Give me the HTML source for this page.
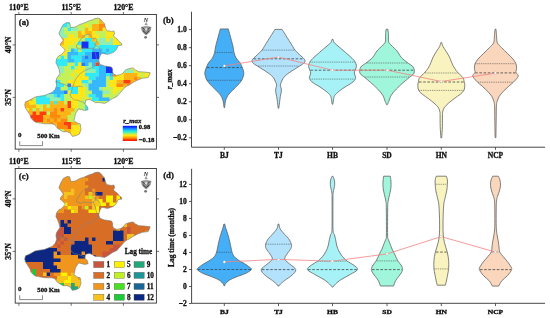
<!DOCTYPE html><html><head><meta charset="utf-8"><style>html,body{margin:0;padding:0;background:#fff;}svg{display:block;will-change:transform;} text{stroke:#111;stroke-width:0.3px;}</style></head><body>
<svg width="550" height="318" viewBox="0 0 550 318" font-family='"Liberation Serif", serif' fill="#111">
<rect width="550" height="318" fill="#fff"/>
<g transform="translate(0,0)">
<rect x="15.2" y="14.5" width="141.2" height="134.6" fill="none" stroke="#333" stroke-width="0.9"/>
<line x1="18.9" y1="12" x2="18.9" y2="14.5" stroke="#333" stroke-width="0.7"/>
<line x1="18.9" y1="149.1" x2="18.9" y2="151.8" stroke="#333" stroke-width="0.7"/>
<line x1="71.2" y1="12" x2="71.2" y2="14.5" stroke="#333" stroke-width="0.7"/>
<line x1="71.2" y1="149.1" x2="71.2" y2="151.8" stroke="#333" stroke-width="0.7"/>
<line x1="123.4" y1="12" x2="123.4" y2="14.5" stroke="#333" stroke-width="0.7"/>
<line x1="123.4" y1="149.1" x2="123.4" y2="151.8" stroke="#333" stroke-width="0.7"/>
<line x1="12.6" y1="44.9" x2="15.2" y2="44.9" stroke="#333" stroke-width="0.7"/>
<line x1="156.4" y1="44.9" x2="159" y2="44.9" stroke="#333" stroke-width="0.7"/>
<line x1="12.6" y1="97.4" x2="15.2" y2="97.4" stroke="#333" stroke-width="0.7"/>
<line x1="156.4" y1="97.4" x2="159" y2="97.4" stroke="#333" stroke-width="0.7"/>
<text x="18.9" y="10.3" font-size="7.8" text-anchor="middle" font-weight="bold" font-style="normal" >110°E</text>
<text x="71.2" y="10.3" font-size="7.8" text-anchor="middle" font-weight="bold" font-style="normal" >115°E</text>
<text x="123.4" y="10.3" font-size="7.8" text-anchor="middle" font-weight="bold" font-style="normal" >120°E</text>
<text transform="translate(10.6,44.9) rotate(-90)" font-size="7.8" text-anchor="middle" font-weight="bold">40°N</text>
<text transform="translate(10.6,97.4) rotate(-90)" font-size="7.8" text-anchor="middle" font-weight="bold">35°N</text>
<text x="18.8" y="25" font-size="8.8" text-anchor="start" font-weight="bold" font-style="normal" >(a)</text>
<clipPath id="clipa"><path d="M63.3 24.4 L67 22.5 L69.6 22.8 L70.8 27.6 L75.2 27 L80 24.4 L83.8 23.2 L89.4 20.7 L92.6 19.8 L95.1 18.5 L98.2 18.1 L100.8 19.4 L102.6 21.9 L104.5 23.8 L105.2 27 L105.8 28.8 L107 30.7 L111.4 31.4 L114 31.1 L114.6 33.9 L113.3 35.8 L115.2 37.6 L117.7 39.5 L119 41.4 L121.3 43.2 L122 45.1 L118.1 45.6 L116.4 49.4 L113.7 52.2 L110.9 53.3 L107.6 54.4 L104.3 53.8 L102.1 53.3 L100.5 54.9 L99.4 57.7 L98.8 60.4 L99.4 63.2 L101 64.8 L104.3 65.9 L108.2 66.5 L111.5 67 L112.6 69.2 L112.6 72 L113.7 74.2 L116.4 75.3 L120.3 74.7 L123 73.1 L125.5 69.9 L129.7 68.4 L133.2 68 L135.4 69.9 L138.9 71.7 L143.8 72 L150.2 72.7 L149.5 74.8 L148.1 77.6 L142.4 78.3 L138.2 79.8 L133.9 81.9 L131.8 83.3 L129.7 84.7 L126.9 86.1 L124 88.2 L121.2 91.8 L118.4 94.6 L117.2 96.3 L112.5 98.6 L107.7 101.8 L104.6 103.4 L99.9 102.6 L95.2 102.6 L92.8 101 L89.7 99.4 L85.7 100.2 L84.9 104.2 L87.3 106.5 L88.1 109.7 L84.9 110.4 L81.8 109.7 L78.6 108.9 L77.1 111.2 L75.5 113.6 L74.7 117.5 L73.9 120.7 L77.1 123 L80.2 123.8 L81 129.3 L79.4 134 L76.3 135.6 L72.4 136.4 L70.3 133.2 L67.2 131.7 L63.2 131.7 L60.1 130.1 L56.9 127.7 L54.6 124.6 L51.4 123.8 L45.2 123.8 L40.4 123 L35.7 122.2 L33.4 120.7 L31 118.3 L30.2 115.2 L28.6 112.8 L27.1 110.4 L25.5 108.1 L24.7 104.9 L25.5 101.8 L29.4 100.2 L34.9 97.1 L38.9 96.3 L44.2 95.6 L48.1 94 L52 92.5 L55.2 89.3 L56.7 85.4 L55.9 81.4 L56.7 78.3 L58.3 75.9 L59.9 73.6 L59.1 69.7 L57.5 65.7 L55.9 62.6 L56.7 58.6 L59.1 55.5 L60.8 55 L63.3 52.7 L65.2 50.2 L62.6 47.1 L60.1 45.2 L60.8 43.3 L63.3 40.2 L62 38.3 L58.9 33.9 L59.5 32 L60.8 28.8 Z"/></clipPath>
<filter id="bla" x="-5%" y="-5%" width="110%" height="110%"><feGaussianBlur stdDeviation="0.45"/></filter>
<g clip-path="url(#clipa)"><g filter="url(#bla)">
<rect x="20" y="15" width="140" height="130" fill="#B4EC8C"/><path fill="#30EAF6" d="M22 17h49v3.5h-49zM22 20.5h14v3.5h-14zM39.5 20.5h17.5v3.5h-17.5zM60.5 20.5h10.5v3.5h-10.5zM57 24h10.5v3.5h-10.5zM71 24h3.5v3.5h-3.5zM67.5 27.5h3.5v3.5h-3.5zM85 38h7v3.5h-7zM78 41.5h3.5v3.5h-3.5zM88.5 41.5h7v3.5h-7zM127 41.5h10.5v3.5h-10.5zM144.5 41.5h3.5v3.5h-3.5zM88.5 45h7v3.5h-7zM99 45h45.5v3.5h-45.5zM74.5 48.5h3.5v3.5h-3.5zM81.5 48.5h10.5v3.5h-10.5zM102.5 48.5h3.5v3.5h-3.5zM109.5 48.5h28v3.5h-28zM141 48.5h3.5v3.5h-3.5zM78 52h7v3.5h-7zM106 52h28v3.5h-28zM25.5 55.5h3.5v3.5h-3.5zM53.5 55.5h3.5v3.5h-3.5zM60.5 55.5h3.5v3.5h-3.5zM71 55.5h10.5v3.5h-10.5zM109.5 55.5h21v3.5h-21zM22 59h14v3.5h-14zM39.5 59h28v3.5h-28zM74.5 59h7v3.5h-7zM102.5 59h3.5v3.5h-3.5zM113 59h14v3.5h-14zM22 62.5h21v3.5h-21zM50 62.5h17.5v3.5h-17.5zM74.5 62.5h3.5v3.5h-3.5zM116.5 62.5h10.5v3.5h-10.5zM71 66h3.5v3.5h-3.5zM92 66h7v3.5h-7zM39.5 69.5h3.5v3.5h-3.5zM95.5 69.5h3.5v3.5h-3.5zM22 73h28v3.5h-28zM53.5 73h3.5v3.5h-3.5zM85 73h14v3.5h-14zM106 73h3.5v3.5h-3.5zM25.5 76.5h10.5v3.5h-10.5zM43 76.5h7v3.5h-7zM53.5 76.5h3.5v3.5h-3.5zM88.5 76.5h7v3.5h-7zM109.5 76.5h3.5v3.5h-3.5zM22 80h3.5v3.5h-3.5zM50 80h3.5v3.5h-3.5zM57 80h3.5v3.5h-3.5zM81.5 80h7v3.5h-7zM36 83.5h3.5v3.5h-3.5zM43 83.5h3.5v3.5h-3.5zM57 83.5h7v3.5h-7zM39.5 87h3.5v3.5h-3.5zM67.5 87h10.5v3.5h-10.5zM36 90.5h7v3.5h-7zM71 90.5h7v3.5h-7zM36 94h10.5v3.5h-10.5zM53.5 94h3.5v3.5h-3.5zM60.5 94h3.5v3.5h-3.5zM88.5 94h7v3.5h-7zM36 97.5h14v3.5h-14zM60.5 97.5h3.5v3.5h-3.5zM92 97.5h7v3.5h-7zM36 101h14v3.5h-14zM53.5 101h3.5v3.5h-3.5zM85 101h7v3.5h-7zM85 104.5h7v3.5h-7zM85 108h7v3.5h-7zM85 111.5h7v3.5h-7zM88.5 115h7v3.5h-7zM85 118.5h3.5v3.5h-3.5z"/>
<path fill="#8EEEB4" d="M71 17h7v3.5h-7zM36 20.5h3.5v3.5h-3.5zM57 20.5h3.5v3.5h-3.5zM71 20.5h7v3.5h-7zM22 24h35v3.5h-35zM67.5 24h3.5v3.5h-3.5zM22 27.5h42v3.5h-42zM71 27.5h7v3.5h-7zM22 31h42v3.5h-42zM22 34.5h14v3.5h-14zM39.5 34.5h7v3.5h-7zM50 34.5h17.5v3.5h-17.5zM29 38h10.5v3.5h-10.5zM99 38h7v3.5h-7zM109.5 38h3.5v3.5h-3.5zM99 41.5h14v3.5h-14zM95.5 45h3.5v3.5h-3.5zM127 59h3.5v3.5h-3.5zM43 62.5h7v3.5h-7zM88.5 62.5h3.5v3.5h-3.5zM127 62.5h7v3.5h-7zM22 66h42v3.5h-42zM85 66h7v3.5h-7zM116.5 66h14v3.5h-14zM22 69.5h17.5v3.5h-17.5zM43 69.5h21v3.5h-21zM85 69.5h10.5v3.5h-10.5zM116.5 69.5h3.5v3.5h-3.5zM123.5 69.5h10.5v3.5h-10.5zM50 73h3.5v3.5h-3.5zM57 73h3.5v3.5h-3.5zM88.5 80h3.5v3.5h-3.5zM85 83.5h3.5v3.5h-3.5zM99 87h3.5v3.5h-3.5zM102.5 90.5h7v3.5h-7zM46.5 94h7v3.5h-7zM50 97.5h10.5v3.5h-10.5z"/>
<path fill="#C4F05A" d="M78 17h21v3.5h-21zM78 20.5h21v3.5h-21zM74.5 24h10.5v3.5h-10.5zM88.5 24h3.5v3.5h-3.5zM64 27.5h3.5v3.5h-3.5zM78 27.5h7v3.5h-7zM64 31h14v3.5h-14zM95.5 31h10.5v3.5h-10.5zM74.5 34.5h3.5v3.5h-3.5zM85 34.5h3.5v3.5h-3.5zM99 34.5h7v3.5h-7zM134 34.5h3.5v3.5h-3.5zM78 38h7v3.5h-7zM95.5 38h3.5v3.5h-3.5zM120 38h14v3.5h-14zM137.5 38h7v3.5h-7zM148 38h3.5v3.5h-3.5zM74.5 41.5h3.5v3.5h-3.5zM120 41.5h7v3.5h-7zM137.5 41.5h7v3.5h-7zM151.5 41.5h3.5v3.5h-3.5zM67.5 45h14v3.5h-14zM144.5 45h7v3.5h-7zM22 48.5h7v3.5h-7zM39.5 48.5h3.5v3.5h-3.5zM46.5 48.5h3.5v3.5h-3.5zM67.5 48.5h3.5v3.5h-3.5zM78 48.5h3.5v3.5h-3.5zM22 52h7v3.5h-7zM32.5 52h10.5v3.5h-10.5zM46.5 52h14v3.5h-14zM22 55.5h3.5v3.5h-3.5zM29 55.5h24.5v3.5h-24.5zM57 55.5h3.5v3.5h-3.5zM64 55.5h3.5v3.5h-3.5zM36 59h3.5v3.5h-3.5zM67.5 62.5h7v3.5h-7zM64 66h7v3.5h-7zM74.5 66h3.5v3.5h-3.5zM64 69.5h10.5v3.5h-10.5zM137.5 69.5h3.5v3.5h-3.5zM144.5 69.5h3.5v3.5h-3.5zM60.5 73h10.5v3.5h-10.5zM74.5 73h3.5v3.5h-3.5zM141 73h3.5v3.5h-3.5zM22 76.5h3.5v3.5h-3.5zM36 76.5h3.5v3.5h-3.5zM57 76.5h17.5v3.5h-17.5zM106 76.5h3.5v3.5h-3.5zM141 76.5h3.5v3.5h-3.5zM25.5 80h10.5v3.5h-10.5zM60.5 80h7v3.5h-7zM106 80h3.5v3.5h-3.5zM148 80h3.5v3.5h-3.5zM22 83.5h10.5v3.5h-10.5zM64 83.5h3.5v3.5h-3.5zM81.5 83.5h3.5v3.5h-3.5zM106 83.5h3.5v3.5h-3.5zM134 83.5h3.5v3.5h-3.5zM22 87h14v3.5h-14zM60.5 87h7v3.5h-7zM85 87h3.5v3.5h-3.5zM102.5 87h10.5v3.5h-10.5zM123.5 87h3.5v3.5h-3.5zM134 87h3.5v3.5h-3.5zM22 90.5h14v3.5h-14zM85 90.5h7v3.5h-7zM109.5 90.5h3.5v3.5h-3.5zM116.5 90.5h7v3.5h-7zM127 90.5h3.5v3.5h-3.5zM22 94h14v3.5h-14zM64 94h7v3.5h-7zM85 94h3.5v3.5h-3.5zM102.5 94h17.5v3.5h-17.5zM123.5 94h10.5v3.5h-10.5zM22 97.5h7v3.5h-7zM32.5 97.5h3.5v3.5h-3.5zM64 97.5h7v3.5h-7zM81.5 97.5h3.5v3.5h-3.5zM88.5 97.5h3.5v3.5h-3.5zM109.5 97.5h10.5v3.5h-10.5zM127 97.5h7v3.5h-7zM64 101h3.5v3.5h-3.5zM78 101h7v3.5h-7zM92 101h28v3.5h-28zM123.5 101h3.5v3.5h-3.5zM130.5 101h3.5v3.5h-3.5zM39.5 104.5h3.5v3.5h-3.5zM46.5 104.5h3.5v3.5h-3.5zM78 104.5h7v3.5h-7zM92 104.5h28v3.5h-28zM127 104.5h7v3.5h-7zM32.5 108h3.5v3.5h-3.5zM39.5 108h3.5v3.5h-3.5zM74.5 108h10.5v3.5h-10.5zM92 108h28v3.5h-28zM130.5 108h3.5v3.5h-3.5zM46.5 111.5h3.5v3.5h-3.5zM71 111.5h14v3.5h-14zM92 111.5h28v3.5h-28zM123.5 111.5h14v3.5h-14zM67.5 115h21v3.5h-21zM95.5 115h21v3.5h-21zM127 115h7v3.5h-7zM67.5 118.5h17.5v3.5h-17.5zM88.5 118.5h28v3.5h-28zM127 118.5h7v3.5h-7zM78 122h3.5v3.5h-3.5zM95.5 122h21v3.5h-21zM127 122h10.5v3.5h-10.5zM53.5 125.5h3.5v3.5h-3.5zM102.5 125.5h3.5v3.5h-3.5zM109.5 125.5h10.5v3.5h-10.5zM127 125.5h3.5v3.5h-3.5zM50 129h14v3.5h-14zM106 129h17.5v3.5h-17.5zM127 129h7v3.5h-7zM46.5 132.5h14v3.5h-14zM106 132.5h14v3.5h-14zM127 132.5h3.5v3.5h-3.5zM50 136h14v3.5h-14zM102.5 136h3.5v3.5h-3.5zM120 136h3.5v3.5h-3.5zM127 136h10.5v3.5h-10.5zM50 139.5h14v3.5h-14zM127 139.5h7v3.5h-7z"/>
<path fill="#FFB414" d="M99 17h56v3.5h-56zM99 20.5h45.5v3.5h-45.5zM148 20.5h7v3.5h-7zM92 24h7v3.5h-7zM134 24h3.5v3.5h-3.5zM141 24h7v3.5h-7zM85 27.5h3.5v3.5h-3.5zM92 27.5h7v3.5h-7zM78 31h3.5v3.5h-3.5zM85 31h7v3.5h-7zM36 34.5h3.5v3.5h-3.5zM46.5 34.5h3.5v3.5h-3.5zM78 34.5h7v3.5h-7zM88.5 34.5h3.5v3.5h-3.5zM22 38h7v3.5h-7zM39.5 38h24.5v3.5h-24.5zM92 38h3.5v3.5h-3.5zM22 41.5h35v3.5h-35zM60.5 41.5h3.5v3.5h-3.5zM95.5 41.5h3.5v3.5h-3.5zM32.5 45h10.5v3.5h-10.5zM46.5 45h3.5v3.5h-3.5zM123.5 73h14v3.5h-14zM123.5 76.5h10.5v3.5h-10.5zM137.5 76.5h3.5v3.5h-3.5zM116.5 80h7v3.5h-7zM130.5 80h7v3.5h-7zM123.5 83.5h3.5v3.5h-3.5zM29 97.5h3.5v3.5h-3.5zM22 101h7v3.5h-7zM50 101h3.5v3.5h-3.5zM57 101h7v3.5h-7zM22 104.5h14v3.5h-14zM43 104.5h3.5v3.5h-3.5zM50 104.5h17.5v3.5h-17.5zM29 108h3.5v3.5h-3.5zM36 108h3.5v3.5h-3.5zM43 108h10.5v3.5h-10.5zM57 108h3.5v3.5h-3.5zM64 108h10.5v3.5h-10.5zM29 111.5h3.5v3.5h-3.5zM36 111.5h3.5v3.5h-3.5zM57 111.5h14v3.5h-14zM25.5 115h3.5v3.5h-3.5zM43 115h7v3.5h-7zM60.5 115h7v3.5h-7zM29 118.5h3.5v3.5h-3.5zM43 118.5h3.5v3.5h-3.5zM50 118.5h3.5v3.5h-3.5zM57 118.5h3.5v3.5h-3.5zM22 122h10.5v3.5h-10.5zM36 122h14v3.5h-14zM53.5 122h3.5v3.5h-3.5zM71 122h7v3.5h-7zM22 125.5h31.5v3.5h-31.5zM22 129h28v3.5h-28zM64 129h7v3.5h-7zM22 132.5h24.5v3.5h-24.5zM60.5 132.5h10.5v3.5h-10.5zM22 136h28v3.5h-28zM64 136h7v3.5h-7zM22 139.5h28v3.5h-28zM64 139.5h7v3.5h-7z"/>
<path fill="#FFE614" d="M144.5 20.5h3.5v3.5h-3.5zM85 24h3.5v3.5h-3.5zM106 24h28v3.5h-28zM137.5 24h3.5v3.5h-3.5zM148 24h7v3.5h-7zM88.5 27.5h3.5v3.5h-3.5zM102.5 27.5h52.5v3.5h-52.5zM81.5 31h3.5v3.5h-3.5zM92 31h3.5v3.5h-3.5zM106 31h49v3.5h-49zM67.5 34.5h7v3.5h-7zM92 34.5h7v3.5h-7zM106 34.5h28v3.5h-28zM137.5 34.5h17.5v3.5h-17.5zM64 38h14v3.5h-14zM106 38h3.5v3.5h-3.5zM113 38h7v3.5h-7zM134 38h3.5v3.5h-3.5zM144.5 38h3.5v3.5h-3.5zM151.5 38h3.5v3.5h-3.5zM57 41.5h3.5v3.5h-3.5zM64 41.5h10.5v3.5h-10.5zM113 41.5h7v3.5h-7zM148 41.5h3.5v3.5h-3.5zM22 45h10.5v3.5h-10.5zM43 45h3.5v3.5h-3.5zM50 45h17.5v3.5h-17.5zM151.5 45h3.5v3.5h-3.5zM29 48.5h10.5v3.5h-10.5zM43 48.5h3.5v3.5h-3.5zM50 48.5h17.5v3.5h-17.5zM137.5 48.5h3.5v3.5h-3.5zM144.5 48.5h10.5v3.5h-10.5zM29 52h3.5v3.5h-3.5zM43 52h3.5v3.5h-3.5zM60.5 52h7v3.5h-7zM134 52h21v3.5h-21zM130.5 55.5h24.5v3.5h-24.5zM130.5 59h24.5v3.5h-24.5zM78 62.5h3.5v3.5h-3.5zM134 62.5h21v3.5h-21zM78 66h7v3.5h-7zM130.5 66h24.5v3.5h-24.5zM74.5 69.5h10.5v3.5h-10.5zM113 69.5h3.5v3.5h-3.5zM120 69.5h3.5v3.5h-3.5zM134 69.5h3.5v3.5h-3.5zM141 69.5h3.5v3.5h-3.5zM148 69.5h7v3.5h-7zM71 73h3.5v3.5h-3.5zM78 73h7v3.5h-7zM116.5 73h7v3.5h-7zM137.5 73h3.5v3.5h-3.5zM144.5 73h10.5v3.5h-10.5zM74.5 76.5h14v3.5h-14zM113 76.5h10.5v3.5h-10.5zM144.5 76.5h10.5v3.5h-10.5zM67.5 80h14v3.5h-14zM109.5 80h7v3.5h-7zM141 80h7v3.5h-7zM151.5 80h3.5v3.5h-3.5zM71 83.5h10.5v3.5h-10.5zM109.5 83.5h7v3.5h-7zM141 83.5h14v3.5h-14zM78 87h7v3.5h-7zM113 87h10.5v3.5h-10.5zM141 87h14v3.5h-14zM67.5 90.5h3.5v3.5h-3.5zM78 90.5h7v3.5h-7zM113 90.5h3.5v3.5h-3.5zM123.5 90.5h3.5v3.5h-3.5zM141 90.5h14v3.5h-14zM71 94h14v3.5h-14zM120 94h3.5v3.5h-3.5zM137.5 94h17.5v3.5h-17.5zM71 97.5h10.5v3.5h-10.5zM85 97.5h3.5v3.5h-3.5zM120 97.5h7v3.5h-7zM141 97.5h14v3.5h-14zM29 101h7v3.5h-7zM71 101h7v3.5h-7zM120 101h3.5v3.5h-3.5zM127 101h3.5v3.5h-3.5zM141 101h14v3.5h-14zM36 104.5h3.5v3.5h-3.5zM71 104.5h7v3.5h-7zM120 104.5h7v3.5h-7zM141 104.5h14v3.5h-14zM25.5 108h3.5v3.5h-3.5zM120 108h10.5v3.5h-10.5zM137.5 108h3.5v3.5h-3.5zM144.5 108h10.5v3.5h-10.5zM120 111.5h3.5v3.5h-3.5zM141 111.5h14v3.5h-14zM116.5 115h10.5v3.5h-10.5zM141 115h14v3.5h-14zM116.5 118.5h10.5v3.5h-10.5zM144.5 118.5h10.5v3.5h-10.5zM81.5 122h14v3.5h-14zM116.5 122h10.5v3.5h-10.5zM144.5 122h10.5v3.5h-10.5zM71 125.5h31.5v3.5h-31.5zM106 125.5h3.5v3.5h-3.5zM120 125.5h7v3.5h-7zM141 125.5h14v3.5h-14zM71 129h35v3.5h-35zM123.5 129h3.5v3.5h-3.5zM141 129h14v3.5h-14zM71 132.5h35v3.5h-35zM120 132.5h7v3.5h-7zM144.5 132.5h10.5v3.5h-10.5zM71 136h31.5v3.5h-31.5zM106 136h14v3.5h-14zM123.5 136h3.5v3.5h-3.5zM137.5 136h17.5v3.5h-17.5zM71 139.5h56v3.5h-56zM141 139.5h14v3.5h-14z"/>
<path fill="#FF8A0A" d="M99 24h7v3.5h-7zM99 27.5h3.5v3.5h-3.5zM113 73h3.5v3.5h-3.5zM134 76.5h3.5v3.5h-3.5zM137.5 80h3.5v3.5h-3.5zM116.5 83.5h7v3.5h-7zM127 83.5h7v3.5h-7zM137.5 83.5h3.5v3.5h-3.5zM127 87h7v3.5h-7zM137.5 87h3.5v3.5h-3.5zM130.5 90.5h10.5v3.5h-10.5zM134 94h3.5v3.5h-3.5zM134 97.5h7v3.5h-7zM134 101h7v3.5h-7zM134 104.5h7v3.5h-7zM22 108h3.5v3.5h-3.5zM53.5 108h3.5v3.5h-3.5zM134 108h3.5v3.5h-3.5zM141 108h3.5v3.5h-3.5zM22 111.5h7v3.5h-7zM50 111.5h7v3.5h-7zM137.5 111.5h3.5v3.5h-3.5zM22 115h3.5v3.5h-3.5zM50 115h10.5v3.5h-10.5zM134 115h7v3.5h-7zM22 118.5h7v3.5h-7zM46.5 118.5h3.5v3.5h-3.5zM53.5 118.5h3.5v3.5h-3.5zM60.5 118.5h7v3.5h-7zM134 118.5h10.5v3.5h-10.5zM50 122h3.5v3.5h-3.5zM57 122h7v3.5h-7zM137.5 122h7v3.5h-7zM57 125.5h10.5v3.5h-10.5zM130.5 125.5h10.5v3.5h-10.5zM134 129h7v3.5h-7zM130.5 132.5h14v3.5h-14zM134 139.5h7v3.5h-7z"/>
<path fill="#1432F0" d="M81.5 41.5h7v3.5h-7zM81.5 45h7v3.5h-7zM92 52h7v3.5h-7zM92 55.5h7v3.5h-7zM106 66h7v3.5h-7zM106 69.5h7v3.5h-7z"/>
<path fill="#36B8FF" d="M71 48.5h3.5v3.5h-3.5zM92 48.5h10.5v3.5h-10.5zM106 48.5h3.5v3.5h-3.5zM67.5 52h10.5v3.5h-10.5zM85 52h7v3.5h-7zM99 52h7v3.5h-7zM67.5 55.5h3.5v3.5h-3.5zM81.5 55.5h3.5v3.5h-3.5zM88.5 55.5h3.5v3.5h-3.5zM99 55.5h7v3.5h-7zM67.5 59h7v3.5h-7zM81.5 59h21v3.5h-21zM85 62.5h3.5v3.5h-3.5zM92 62.5h3.5v3.5h-3.5zM99 62.5h7v3.5h-7zM99 66h7v3.5h-7zM113 66h3.5v3.5h-3.5zM99 69.5h7v3.5h-7zM99 73h7v3.5h-7zM109.5 73h3.5v3.5h-3.5zM39.5 76.5h3.5v3.5h-3.5zM50 76.5h3.5v3.5h-3.5zM95.5 76.5h10.5v3.5h-10.5zM36 80h14v3.5h-14zM53.5 80h3.5v3.5h-3.5zM92 80h14v3.5h-14zM32.5 83.5h3.5v3.5h-3.5zM39.5 83.5h3.5v3.5h-3.5zM46.5 83.5h10.5v3.5h-10.5zM88.5 83.5h17.5v3.5h-17.5zM36 87h3.5v3.5h-3.5zM43 87h17.5v3.5h-17.5zM88.5 87h10.5v3.5h-10.5zM43 90.5h21v3.5h-21zM92 90.5h10.5v3.5h-10.5zM57 94h3.5v3.5h-3.5zM95.5 94h7v3.5h-7zM99 97.5h10.5v3.5h-10.5z"/>
<path fill="#2A7CFF" d="M85 55.5h3.5v3.5h-3.5zM106 55.5h3.5v3.5h-3.5zM106 59h7v3.5h-7zM81.5 62.5h3.5v3.5h-3.5zM106 62.5h10.5v3.5h-10.5zM67.5 83.5h3.5v3.5h-3.5zM64 90.5h3.5v3.5h-3.5z"/>
<path fill="#FF3C0A" d="M95.5 62.5h3.5v3.5h-3.5zM123.5 80h7v3.5h-7zM67.5 101h3.5v3.5h-3.5zM67.5 104.5h3.5v3.5h-3.5zM60.5 108h3.5v3.5h-3.5zM32.5 111.5h3.5v3.5h-3.5zM39.5 111.5h7v3.5h-7zM29 115h14v3.5h-14zM32.5 118.5h10.5v3.5h-10.5zM32.5 122h3.5v3.5h-3.5zM64 122h7v3.5h-7zM67.5 125.5h3.5v3.5h-3.5z"/>
</g></g>
<path d="M76.3 46.1 L78.8 42.4 L81.3 38.6 L83.8 36.1 L86.4 34.8 L89.5 34.2 L90.8 36.1 L93.3 38.6 L95.2 38 L97 39.8 L96.4 42.4 L94.5 44.2 L95.8 46.1 L93.3 48 L90.8 48.6 L87.6 48.6 L83.8 48 L80.1 49.3 L76.9 48 L76.3 46.1 M94.5 44.2 L97 46.1 L99.6 48 L100.2 51.2 L100.6 54.5 M93.3 48 L95.2 52.5 L96.3 57.5 L97.2 61.5 L99.3 63.4 M99.3 63.4 L91.2 68.1 L84.9 70.4 L80.2 73.6 L76.2 78.3 L74.2 82.5 L73.1 86 L71.5 90.7 L70.2 94.7 L71.3 97.3 L74.6 100 L77.2 100 L82.5 102 L85.2 103.6 M56 81.4 L59.7 83 L64.4 84.6 L70.2 86.3 L73.1 86 L77 86.5 L80.2 86.2 L82.5 87" fill="none" stroke="#808080" stroke-width="0.55"/>
<path d="M63.3 24.4 L67 22.5 L69.6 22.8 L70.8 27.6 L75.2 27 L80 24.4 L83.8 23.2 L89.4 20.7 L92.6 19.8 L95.1 18.5 L98.2 18.1 L100.8 19.4 L102.6 21.9 L104.5 23.8 L105.2 27 L105.8 28.8 L107 30.7 L111.4 31.4 L114 31.1 L114.6 33.9 L113.3 35.8 L115.2 37.6 L117.7 39.5 L119 41.4 L121.3 43.2 L122 45.1 L118.1 45.6 L116.4 49.4 L113.7 52.2 L110.9 53.3 L107.6 54.4 L104.3 53.8 L102.1 53.3 L100.5 54.9 L99.4 57.7 L98.8 60.4 L99.4 63.2 L101 64.8 L104.3 65.9 L108.2 66.5 L111.5 67 L112.6 69.2 L112.6 72 L113.7 74.2 L116.4 75.3 L120.3 74.7 L123 73.1 L125.5 69.9 L129.7 68.4 L133.2 68 L135.4 69.9 L138.9 71.7 L143.8 72 L150.2 72.7 L149.5 74.8 L148.1 77.6 L142.4 78.3 L138.2 79.8 L133.9 81.9 L131.8 83.3 L129.7 84.7 L126.9 86.1 L124 88.2 L121.2 91.8 L118.4 94.6 L117.2 96.3 L112.5 98.6 L107.7 101.8 L104.6 103.4 L99.9 102.6 L95.2 102.6 L92.8 101 L89.7 99.4 L85.7 100.2 L84.9 104.2 L87.3 106.5 L88.1 109.7 L84.9 110.4 L81.8 109.7 L78.6 108.9 L77.1 111.2 L75.5 113.6 L74.7 117.5 L73.9 120.7 L77.1 123 L80.2 123.8 L81 129.3 L79.4 134 L76.3 135.6 L72.4 136.4 L70.3 133.2 L67.2 131.7 L63.2 131.7 L60.1 130.1 L56.9 127.7 L54.6 124.6 L51.4 123.8 L45.2 123.8 L40.4 123 L35.7 122.2 L33.4 120.7 L31 118.3 L30.2 115.2 L28.6 112.8 L27.1 110.4 L25.5 108.1 L24.7 104.9 L25.5 101.8 L29.4 100.2 L34.9 97.1 L38.9 96.3 L44.2 95.6 L48.1 94 L52 92.5 L55.2 89.3 L56.7 85.4 L55.9 81.4 L56.7 78.3 L58.3 75.9 L59.9 73.6 L59.1 69.7 L57.5 65.7 L55.9 62.6 L56.7 58.6 L59.1 55.5 L60.8 55 L63.3 52.7 L65.2 50.2 L62.6 47.1 L60.1 45.2 L60.8 43.3 L63.3 40.2 L62 38.3 L58.9 33.9 L59.5 32 L60.8 28.8 Z" fill="none" stroke="#777" stroke-width="0.6"/>
<text x="19.7" y="137.3" font-size="7" text-anchor="middle" font-weight="bold" font-style="normal" >0</text>
<text x="37.3" y="137.5" font-size="6.75" text-anchor="start" font-weight="bold" font-style="normal" >500&#8201;Km</text>
<path d="M19.7 141.2 V145.6 H42.5 V141.2" fill="none" stroke="#666" stroke-width="0.75"/>
<g>
<text x="146" y="21.5" font-size="6" text-anchor="middle" font-style="italic" font-weight="bold" fill="#333" style="stroke:#333;stroke-width:0.1px">N</text>
<path d="M146.1 22.2 L147.4 24.9 L144.8 24.9 Z" fill="#aaa" stroke="#666" stroke-width="0.3"/>
<path d="M141.3 27.2 Q146.1 25.6 151.1 27.2 L150.2 30.8 Q148.6 33.8 146.1 35 Q143.6 33.8 142.1 30.8 Z" fill="#9a9a9a" stroke="#555" stroke-width="0.4"/>
<path d="M142.4 27.8 L146.1 31 L149.8 27.8 M142.9 30.6 L146.1 33.6 L149.3 30.6" fill="none" stroke="#333" stroke-width="1"/>
<path d="M146.1 27.6 L147.6 29.5 L146.1 31.2 L144.6 29.5 Z" fill="#e0e0e0"/>
<circle cx="145.6" cy="37.3" r="1.4" fill="#777"/>
</g>
</g>
<g transform="translate(0,154)">
<rect x="15.2" y="14.5" width="141.2" height="134.6" fill="none" stroke="#333" stroke-width="0.9"/>
<line x1="18.9" y1="12" x2="18.9" y2="14.5" stroke="#333" stroke-width="0.7"/>
<line x1="18.9" y1="149.1" x2="18.9" y2="151.8" stroke="#333" stroke-width="0.7"/>
<line x1="71.2" y1="12" x2="71.2" y2="14.5" stroke="#333" stroke-width="0.7"/>
<line x1="71.2" y1="149.1" x2="71.2" y2="151.8" stroke="#333" stroke-width="0.7"/>
<line x1="123.4" y1="12" x2="123.4" y2="14.5" stroke="#333" stroke-width="0.7"/>
<line x1="123.4" y1="149.1" x2="123.4" y2="151.8" stroke="#333" stroke-width="0.7"/>
<line x1="12.6" y1="44.9" x2="15.2" y2="44.9" stroke="#333" stroke-width="0.7"/>
<line x1="156.4" y1="44.9" x2="159" y2="44.9" stroke="#333" stroke-width="0.7"/>
<line x1="12.6" y1="97.4" x2="15.2" y2="97.4" stroke="#333" stroke-width="0.7"/>
<line x1="156.4" y1="97.4" x2="159" y2="97.4" stroke="#333" stroke-width="0.7"/>
<text x="18.9" y="10.3" font-size="7.8" text-anchor="middle" font-weight="bold" font-style="normal" >110°E</text>
<text x="71.2" y="10.3" font-size="7.8" text-anchor="middle" font-weight="bold" font-style="normal" >115°E</text>
<text x="123.4" y="10.3" font-size="7.8" text-anchor="middle" font-weight="bold" font-style="normal" >120°E</text>
<text transform="translate(10.6,44.9) rotate(-90)" font-size="7.8" text-anchor="middle" font-weight="bold">40°N</text>
<text transform="translate(10.6,97.4) rotate(-90)" font-size="7.8" text-anchor="middle" font-weight="bold">35°N</text>
<text x="18.8" y="25" font-size="8.8" text-anchor="start" font-weight="bold" font-style="normal" >(c)</text>
<clipPath id="clipc"><path d="M63.3 24.4 L67 22.5 L69.6 22.8 L70.8 27.6 L75.2 27 L80 24.4 L83.8 23.2 L89.4 20.7 L92.6 19.8 L95.1 18.5 L98.2 18.1 L100.8 19.4 L102.6 21.9 L104.5 23.8 L105.2 27 L105.8 28.8 L107 30.7 L111.4 31.4 L114 31.1 L114.6 33.9 L113.3 35.8 L115.2 37.6 L117.7 39.5 L119 41.4 L121.3 43.2 L122 45.1 L118.1 45.6 L116.4 49.4 L113.7 52.2 L110.9 53.3 L107.6 54.4 L104.3 53.8 L102.1 53.3 L100.5 54.9 L99.4 57.7 L98.8 60.4 L99.4 63.2 L101 64.8 L104.3 65.9 L108.2 66.5 L111.5 67 L112.6 69.2 L112.6 72 L113.7 74.2 L116.4 75.3 L120.3 74.7 L123 73.1 L125.5 69.9 L129.7 68.4 L133.2 68 L135.4 69.9 L138.9 71.7 L143.8 72 L150.2 72.7 L149.5 74.8 L148.1 77.6 L142.4 78.3 L138.2 79.8 L133.9 81.9 L131.8 83.3 L129.7 84.7 L126.9 86.1 L124 88.2 L121.2 91.8 L118.4 94.6 L117.2 96.3 L112.5 98.6 L107.7 101.8 L104.6 103.4 L99.9 102.6 L95.2 102.6 L92.8 101 L89.7 99.4 L85.7 100.2 L84.9 104.2 L87.3 106.5 L88.1 109.7 L84.9 110.4 L81.8 109.7 L78.6 108.9 L77.1 111.2 L75.5 113.6 L74.7 117.5 L73.9 120.7 L77.1 123 L80.2 123.8 L81 129.3 L79.4 134 L76.3 135.6 L72.4 136.4 L70.3 133.2 L67.2 131.7 L63.2 131.7 L60.1 130.1 L56.9 127.7 L54.6 124.6 L51.4 123.8 L45.2 123.8 L40.4 123 L35.7 122.2 L33.4 120.7 L31 118.3 L30.2 115.2 L28.6 112.8 L27.1 110.4 L25.5 108.1 L24.7 104.9 L25.5 101.8 L29.4 100.2 L34.9 97.1 L38.9 96.3 L44.2 95.6 L48.1 94 L52 92.5 L55.2 89.3 L56.7 85.4 L55.9 81.4 L56.7 78.3 L58.3 75.9 L59.9 73.6 L59.1 69.7 L57.5 65.7 L55.9 62.6 L56.7 58.6 L59.1 55.5 L60.8 55 L63.3 52.7 L65.2 50.2 L62.6 47.1 L60.1 45.2 L60.8 43.3 L63.3 40.2 L62 38.3 L58.9 33.9 L59.5 32 L60.8 28.8 Z"/></clipPath>
<filter id="blc" x="-5%" y="-5%" width="110%" height="110%"><feGaussianBlur stdDeviation="0.45"/></filter>
<g clip-path="url(#clipc)"><g filter="url(#blc)">
<rect x="20" y="15" width="140" height="130" fill="#D86E28"/><path fill="#F0961E" d="M22 17h63v3.5h-63zM22 20.5h63v3.5h-63zM22 24h66.5v3.5h-66.5zM22 27.5h63v3.5h-63zM22 31h66.5v3.5h-66.5zM22 34.5h49v3.5h-49zM74.5 34.5h10.5v3.5h-10.5zM92 34.5h3.5v3.5h-3.5zM22 38h42v3.5h-42zM74.5 38h10.5v3.5h-10.5zM92 38h3.5v3.5h-3.5zM22 41.5h42v3.5h-42zM67.5 41.5h17.5v3.5h-17.5zM95.5 41.5h3.5v3.5h-3.5zM22 45h70v3.5h-70zM22 48.5h42v3.5h-42zM67.5 48.5h24.5v3.5h-24.5zM22 52h45.5v3.5h-45.5zM81.5 52h3.5v3.5h-3.5zM22 55.5h42v3.5h-42zM36 59h3.5v3.5h-3.5zM50 59h3.5v3.5h-3.5zM151.5 73h3.5v3.5h-3.5zM144.5 76.5h3.5v3.5h-3.5zM151.5 76.5h3.5v3.5h-3.5zM144.5 80h10.5v3.5h-10.5zM148 83.5h7v3.5h-7zM144.5 87h10.5v3.5h-10.5zM144.5 90.5h10.5v3.5h-10.5zM148 94h7v3.5h-7zM53.5 97.5h3.5v3.5h-3.5zM81.5 97.5h3.5v3.5h-3.5zM151.5 97.5h3.5v3.5h-3.5zM53.5 101h24.5v3.5h-24.5zM85 101h7v3.5h-7zM148 101h7v3.5h-7zM60.5 104.5h38.5v3.5h-38.5zM148 104.5h7v3.5h-7zM53.5 108h45.5v3.5h-45.5zM151.5 108h3.5v3.5h-3.5zM57 111.5h42v3.5h-42zM148 111.5h7v3.5h-7zM60.5 115h38.5v3.5h-38.5zM148 115h7v3.5h-7zM53.5 118.5h7v3.5h-7zM67.5 118.5h3.5v3.5h-3.5zM74.5 118.5h24.5v3.5h-24.5zM148 118.5h7v3.5h-7zM78 122h3.5v3.5h-3.5zM95.5 122h3.5v3.5h-3.5zM148 122h7v3.5h-7zM148 125.5h7v3.5h-7zM144.5 129h10.5v3.5h-10.5zM148 132.5h7v3.5h-7zM151.5 136h3.5v3.5h-3.5zM148 139.5h7v3.5h-7z"/>
<path fill="#D86E28" d="M85 17h70v3.5h-70zM85 20.5h70v3.5h-70zM88.5 24h14v3.5h-14zM106 24h49v3.5h-49zM85 27.5h70v3.5h-70zM88.5 31h66.5v3.5h-66.5zM85 34.5h7v3.5h-7zM95.5 34.5h59.5v3.5h-59.5zM85 38h3.5v3.5h-3.5zM102.5 38h52.5v3.5h-52.5zM99 41.5h7v3.5h-7zM113 41.5h3.5v3.5h-3.5zM120 41.5h21v3.5h-21zM144.5 41.5h10.5v3.5h-10.5zM102.5 45h3.5v3.5h-3.5zM113 45h3.5v3.5h-3.5zM123.5 45h3.5v3.5h-3.5zM137.5 45h3.5v3.5h-3.5zM148 45h7v3.5h-7zM106 48.5h3.5v3.5h-3.5zM134 48.5h7v3.5h-7zM148 48.5h7v3.5h-7zM78 52h3.5v3.5h-3.5zM88.5 52h3.5v3.5h-3.5zM99 52h21v3.5h-21zM137.5 52h17.5v3.5h-17.5zM64 55.5h7v3.5h-7zM78 55.5h10.5v3.5h-10.5zM99 55.5h17.5v3.5h-17.5zM134 55.5h21v3.5h-21zM22 59h14v3.5h-14zM39.5 59h10.5v3.5h-10.5zM53.5 59h45.5v3.5h-45.5zM102.5 59h17.5v3.5h-17.5zM130.5 59h24.5v3.5h-24.5zM22 62.5h98v3.5h-98zM123.5 62.5h31.5v3.5h-31.5zM22 66h38.5v3.5h-38.5zM64 66h3.5v3.5h-3.5zM71 66h45.5v3.5h-45.5zM123.5 66h31.5v3.5h-31.5zM22 69.5h17.5v3.5h-17.5zM43 69.5h7v3.5h-7zM53.5 69.5h7v3.5h-7zM67.5 69.5h49v3.5h-49zM120 69.5h3.5v3.5h-3.5zM127 69.5h28v3.5h-28zM71 73h45.5v3.5h-45.5zM120 73h7v3.5h-7zM130.5 73h21v3.5h-21zM71 76.5h42v3.5h-42zM123.5 76.5h3.5v3.5h-3.5zM130.5 76.5h14v3.5h-14zM148 76.5h3.5v3.5h-3.5zM64 80h49v3.5h-49zM123.5 80h3.5v3.5h-3.5zM134 80h10.5v3.5h-10.5zM60.5 83.5h3.5v3.5h-3.5zM67.5 83.5h17.5v3.5h-17.5zM88.5 83.5h3.5v3.5h-3.5zM95.5 83.5h17.5v3.5h-17.5zM123.5 83.5h3.5v3.5h-3.5zM134 83.5h14v3.5h-14zM46.5 87h7v3.5h-7zM57 87h3.5v3.5h-3.5zM64 87h10.5v3.5h-10.5zM88.5 87h17.5v3.5h-17.5zM113 87h31.5v3.5h-31.5zM50 90.5h7v3.5h-7zM60.5 90.5h10.5v3.5h-10.5zM92 90.5h21v3.5h-21zM120 90.5h24.5v3.5h-24.5zM57 94h14v3.5h-14zM92 94h17.5v3.5h-17.5zM120 94h28v3.5h-28zM60.5 97.5h10.5v3.5h-10.5zM92 97.5h10.5v3.5h-10.5zM116.5 97.5h35v3.5h-35zM95.5 101h7v3.5h-7zM116.5 101h31.5v3.5h-31.5zM99 104.5h7v3.5h-7zM120 104.5h28v3.5h-28zM22 108h21v3.5h-21zM99 108h3.5v3.5h-3.5zM120 108h31.5v3.5h-31.5zM22 111.5h21v3.5h-21zM99 111.5h7v3.5h-7zM116.5 111.5h31.5v3.5h-31.5zM22 115h3.5v3.5h-3.5zM29 115h3.5v3.5h-3.5zM36 115h14v3.5h-14zM99 115h7v3.5h-7zM120 115h28v3.5h-28zM22 118.5h3.5v3.5h-3.5zM36 118.5h7v3.5h-7zM50 118.5h3.5v3.5h-3.5zM102.5 118.5h3.5v3.5h-3.5zM123.5 118.5h24.5v3.5h-24.5zM39.5 122h17.5v3.5h-17.5zM116.5 122h31.5v3.5h-31.5zM46.5 125.5h7v3.5h-7zM120 125.5h28v3.5h-28zM43 129h3.5v3.5h-3.5zM116.5 129h28v3.5h-28zM43 132.5h7v3.5h-7zM116.5 132.5h10.5v3.5h-10.5zM130.5 132.5h17.5v3.5h-17.5zM43 136h7v3.5h-7zM127 136h24.5v3.5h-24.5zM43 139.5h7v3.5h-7zM127 139.5h21v3.5h-21z"/>
<path fill="#0A2882" d="M102.5 24h3.5v3.5h-3.5zM95.5 38h7v3.5h-7zM60.5 66h3.5v3.5h-3.5zM67.5 66h3.5v3.5h-3.5zM60.5 69.5h7v3.5h-7zM22 73h10.5v3.5h-10.5zM64 73h7v3.5h-7zM22 76.5h7v3.5h-7zM64 76.5h7v3.5h-7zM113 76.5h10.5v3.5h-10.5zM22 80h3.5v3.5h-3.5zM29 80h3.5v3.5h-3.5zM113 80h10.5v3.5h-10.5zM22 83.5h17.5v3.5h-17.5zM85 83.5h3.5v3.5h-3.5zM92 83.5h3.5v3.5h-3.5zM113 83.5h10.5v3.5h-10.5zM22 87h21v3.5h-21zM74.5 87h14v3.5h-14zM106 87h7v3.5h-7zM22 90.5h28v3.5h-28zM71 90.5h21v3.5h-21zM22 94h35v3.5h-35zM71 94h21v3.5h-21zM22 97.5h31.5v3.5h-31.5zM57 97.5h3.5v3.5h-3.5zM71 97.5h10.5v3.5h-10.5zM85 97.5h7v3.5h-7zM22 101h31.5v3.5h-31.5zM78 101h7v3.5h-7zM92 101h3.5v3.5h-3.5zM22 104.5h38.5v3.5h-38.5zM43 108h10.5v3.5h-10.5zM43 111.5h14v3.5h-14zM50 115h10.5v3.5h-10.5zM46.5 118.5h3.5v3.5h-3.5z"/>
<path fill="#F6C21E" d="M71 34.5h3.5v3.5h-3.5zM64 38h10.5v3.5h-10.5zM88.5 38h3.5v3.5h-3.5zM64 41.5h3.5v3.5h-3.5zM85 41.5h3.5v3.5h-3.5zM92 41.5h3.5v3.5h-3.5zM92 45h7v3.5h-7zM92 48.5h7v3.5h-7zM71 52h7v3.5h-7zM92 52h3.5v3.5h-3.5zM74.5 55.5h3.5v3.5h-3.5zM116.5 66h7v3.5h-7zM116.5 69.5h3.5v3.5h-3.5zM123.5 69.5h3.5v3.5h-3.5zM116.5 73h3.5v3.5h-3.5zM127 80h7v3.5h-7zM127 83.5h7v3.5h-7zM25.5 118.5h7v3.5h-7zM43 118.5h3.5v3.5h-3.5zM71 118.5h3.5v3.5h-3.5zM99 118.5h3.5v3.5h-3.5zM22 122h17.5v3.5h-17.5zM57 122h10.5v3.5h-10.5zM71 122h7v3.5h-7zM81.5 122h14v3.5h-14zM99 122h7v3.5h-7zM22 125.5h24.5v3.5h-24.5zM53.5 125.5h10.5v3.5h-10.5zM71 125.5h35v3.5h-35zM113 125.5h3.5v3.5h-3.5zM22 129h21v3.5h-21zM46.5 129h14v3.5h-14zM64 129h7v3.5h-7zM74.5 129h38.5v3.5h-38.5zM22 132.5h21v3.5h-21zM50 132.5h7v3.5h-7zM67.5 132.5h3.5v3.5h-3.5zM78 132.5h35v3.5h-35zM127 132.5h3.5v3.5h-3.5zM22 136h21v3.5h-21zM50 136h7v3.5h-7zM60.5 136h3.5v3.5h-3.5zM67.5 136h42v3.5h-42zM113 136h14v3.5h-14zM22 139.5h21v3.5h-21zM50 139.5h7v3.5h-7zM64 139.5h63v3.5h-63z"/>
<path fill="#C2F028" d="M88.5 41.5h3.5v3.5h-3.5zM85 52h3.5v3.5h-3.5z"/>
<path fill="#FFF000" d="M106 41.5h7v3.5h-7zM116.5 41.5h3.5v3.5h-3.5zM141 41.5h3.5v3.5h-3.5zM99 45h3.5v3.5h-3.5zM106 45h7v3.5h-7zM116.5 45h7v3.5h-7zM127 45h10.5v3.5h-10.5zM141 45h7v3.5h-7zM64 48.5h3.5v3.5h-3.5zM99 48.5h7v3.5h-7zM109.5 48.5h24.5v3.5h-24.5zM141 48.5h7v3.5h-7zM67.5 52h3.5v3.5h-3.5zM95.5 52h3.5v3.5h-3.5zM120 52h17.5v3.5h-17.5zM71 55.5h3.5v3.5h-3.5zM88.5 55.5h10.5v3.5h-10.5zM116.5 55.5h17.5v3.5h-17.5zM99 59h3.5v3.5h-3.5zM120 59h10.5v3.5h-10.5zM120 62.5h3.5v3.5h-3.5zM60.5 118.5h7v3.5h-7zM67.5 122h3.5v3.5h-3.5zM64 125.5h7v3.5h-7z"/>
<path fill="#C8553D" d="M39.5 69.5h3.5v3.5h-3.5zM50 69.5h3.5v3.5h-3.5zM32.5 73h31.5v3.5h-31.5zM127 73h3.5v3.5h-3.5zM29 76.5h35v3.5h-35zM127 76.5h3.5v3.5h-3.5zM25.5 80h3.5v3.5h-3.5zM32.5 80h31.5v3.5h-31.5zM39.5 83.5h21v3.5h-21zM64 83.5h3.5v3.5h-3.5zM43 87h3.5v3.5h-3.5zM53.5 87h3.5v3.5h-3.5zM60.5 87h3.5v3.5h-3.5zM57 90.5h3.5v3.5h-3.5zM113 90.5h7v3.5h-7zM109.5 94h10.5v3.5h-10.5zM102.5 97.5h14v3.5h-14zM102.5 101h14v3.5h-14zM106 104.5h14v3.5h-14zM102.5 108h17.5v3.5h-17.5zM106 111.5h10.5v3.5h-10.5zM106 115h14v3.5h-14zM106 118.5h17.5v3.5h-17.5zM106 122h10.5v3.5h-10.5zM106 125.5h7v3.5h-7zM116.5 125.5h3.5v3.5h-3.5zM113 129h3.5v3.5h-3.5zM113 132.5h3.5v3.5h-3.5zM109.5 136h3.5v3.5h-3.5z"/>
<path fill="#1EC83C" d="M25.5 115h3.5v3.5h-3.5zM32.5 115h3.5v3.5h-3.5zM32.5 118.5h3.5v3.5h-3.5zM60.5 129h3.5v3.5h-3.5zM57 132.5h10.5v3.5h-10.5zM57 136h3.5v3.5h-3.5zM64 136h3.5v3.5h-3.5zM57 139.5h7v3.5h-7z"/>
<path fill="#22A878" d="M71 129h3.5v3.5h-3.5zM71 132.5h7v3.5h-7z"/>
</g></g>
<path d="M76.3 46.1 L78.8 42.4 L81.3 38.6 L83.8 36.1 L86.4 34.8 L89.5 34.2 L90.8 36.1 L93.3 38.6 L95.2 38 L97 39.8 L96.4 42.4 L94.5 44.2 L95.8 46.1 L93.3 48 L90.8 48.6 L87.6 48.6 L83.8 48 L80.1 49.3 L76.9 48 L76.3 46.1 M94.5 44.2 L97 46.1 L99.6 48 L100.2 51.2 L100.6 54.5 M93.3 48 L95.2 52.5 L96.3 57.5 L97.2 61.5 L99.3 63.4 M99.3 63.4 L91.2 68.1 L84.9 70.4 L80.2 73.6 L76.2 78.3 L74.2 82.5 L73.1 86 L71.5 90.7 L70.2 94.7 L71.3 97.3 L74.6 100 L77.2 100 L82.5 102 L85.2 103.6 M56 81.4 L59.7 83 L64.4 84.6 L70.2 86.3 L73.1 86 L77 86.5 L80.2 86.2 L82.5 87" fill="none" stroke="#808080" stroke-width="0.55"/>
<path d="M63.3 24.4 L67 22.5 L69.6 22.8 L70.8 27.6 L75.2 27 L80 24.4 L83.8 23.2 L89.4 20.7 L92.6 19.8 L95.1 18.5 L98.2 18.1 L100.8 19.4 L102.6 21.9 L104.5 23.8 L105.2 27 L105.8 28.8 L107 30.7 L111.4 31.4 L114 31.1 L114.6 33.9 L113.3 35.8 L115.2 37.6 L117.7 39.5 L119 41.4 L121.3 43.2 L122 45.1 L118.1 45.6 L116.4 49.4 L113.7 52.2 L110.9 53.3 L107.6 54.4 L104.3 53.8 L102.1 53.3 L100.5 54.9 L99.4 57.7 L98.8 60.4 L99.4 63.2 L101 64.8 L104.3 65.9 L108.2 66.5 L111.5 67 L112.6 69.2 L112.6 72 L113.7 74.2 L116.4 75.3 L120.3 74.7 L123 73.1 L125.5 69.9 L129.7 68.4 L133.2 68 L135.4 69.9 L138.9 71.7 L143.8 72 L150.2 72.7 L149.5 74.8 L148.1 77.6 L142.4 78.3 L138.2 79.8 L133.9 81.9 L131.8 83.3 L129.7 84.7 L126.9 86.1 L124 88.2 L121.2 91.8 L118.4 94.6 L117.2 96.3 L112.5 98.6 L107.7 101.8 L104.6 103.4 L99.9 102.6 L95.2 102.6 L92.8 101 L89.7 99.4 L85.7 100.2 L84.9 104.2 L87.3 106.5 L88.1 109.7 L84.9 110.4 L81.8 109.7 L78.6 108.9 L77.1 111.2 L75.5 113.6 L74.7 117.5 L73.9 120.7 L77.1 123 L80.2 123.8 L81 129.3 L79.4 134 L76.3 135.6 L72.4 136.4 L70.3 133.2 L67.2 131.7 L63.2 131.7 L60.1 130.1 L56.9 127.7 L54.6 124.6 L51.4 123.8 L45.2 123.8 L40.4 123 L35.7 122.2 L33.4 120.7 L31 118.3 L30.2 115.2 L28.6 112.8 L27.1 110.4 L25.5 108.1 L24.7 104.9 L25.5 101.8 L29.4 100.2 L34.9 97.1 L38.9 96.3 L44.2 95.6 L48.1 94 L52 92.5 L55.2 89.3 L56.7 85.4 L55.9 81.4 L56.7 78.3 L58.3 75.9 L59.9 73.6 L59.1 69.7 L57.5 65.7 L55.9 62.6 L56.7 58.6 L59.1 55.5 L60.8 55 L63.3 52.7 L65.2 50.2 L62.6 47.1 L60.1 45.2 L60.8 43.3 L63.3 40.2 L62 38.3 L58.9 33.9 L59.5 32 L60.8 28.8 Z" fill="none" stroke="#777" stroke-width="0.6"/>
<text x="19.7" y="137.3" font-size="7" text-anchor="middle" font-weight="bold" font-style="normal" >0</text>
<text x="37.3" y="137.5" font-size="6.75" text-anchor="start" font-weight="bold" font-style="normal" >500&#8201;Km</text>
<path d="M19.7 141.2 V145.6 H42.5 V141.2" fill="none" stroke="#666" stroke-width="0.75"/>
<g>
<text x="146" y="21.5" font-size="6" text-anchor="middle" font-style="italic" font-weight="bold" fill="#333" style="stroke:#333;stroke-width:0.1px">N</text>
<path d="M146.1 22.2 L147.4 24.9 L144.8 24.9 Z" fill="#aaa" stroke="#666" stroke-width="0.3"/>
<path d="M141.3 27.2 Q146.1 25.6 151.1 27.2 L150.2 30.8 Q148.6 33.8 146.1 35 Q143.6 33.8 142.1 30.8 Z" fill="#9a9a9a" stroke="#555" stroke-width="0.4"/>
<path d="M142.4 27.8 L146.1 31 L149.8 27.8 M142.9 30.6 L146.1 33.6 L149.3 30.6" fill="none" stroke="#333" stroke-width="1"/>
<path d="M146.1 27.6 L147.6 29.5 L146.1 31.2 L144.6 29.5 Z" fill="#e0e0e0"/>
<circle cx="145.6" cy="37.3" r="1.4" fill="#777"/>
</g>
</g>
<defs><linearGradient id="cb" x1="0" y1="0" x2="0" y2="1"><stop offset="0" stop-color="#0818f0"/><stop offset="0.08" stop-color="#1030ff"/><stop offset="0.2" stop-color="#1890ff"/><stop offset="0.33" stop-color="#10e0f0"/><stop offset="0.45" stop-color="#60f0a0"/><stop offset="0.55" stop-color="#c0f050"/><stop offset="0.63" stop-color="#ffe810"/><stop offset="0.78" stop-color="#ffa000"/><stop offset="0.9" stop-color="#ff4000"/><stop offset="1" stop-color="#ff1000"/></linearGradient></defs>
<rect x="122.8" y="125.8" width="14.2" height="15.2" fill="url(#cb)"/>
<text x="123.2" y="122.6" font-size="6.8" font-weight="bold" font-style="italic">r_max</text>
<text x="138.7" y="128.7" font-size="6.6" text-anchor="start" font-weight="bold" font-style="normal" >0.98</text>
<text x="138.7" y="142.3" font-size="6.8" text-anchor="start" font-weight="bold" font-style="normal" >&#8722;0.18</text>
<text x="124.8" y="254.3" font-size="7.2" text-anchor="start" font-weight="bold" font-style="normal" >Lag time</text>
<rect x="93.7" y="261.5" width="10.2" height="6.1" fill="#C8553D" stroke="#555" stroke-width="0.35"/>
<text x="106.4" y="267.3" font-size="7.2" text-anchor="start" font-weight="bold" font-style="normal" >1</text>
<rect x="93.7" y="272.3" width="10.2" height="6.1" fill="#D86E28" stroke="#555" stroke-width="0.35"/>
<text x="106.4" y="278.1" font-size="7.2" text-anchor="start" font-weight="bold" font-style="normal" >2</text>
<rect x="93.7" y="283.4" width="10.2" height="6.1" fill="#F0951E" stroke="#555" stroke-width="0.35"/>
<text x="106.4" y="289.2" font-size="7.2" text-anchor="start" font-weight="bold" font-style="normal" >3</text>
<rect x="93.7" y="294.2" width="10.2" height="6.1" fill="#F6C21E" stroke="#555" stroke-width="0.35"/>
<text x="106.4" y="300" font-size="7.2" text-anchor="start" font-weight="bold" font-style="normal" >4</text>
<rect x="114.2" y="261.5" width="10.2" height="6.1" fill="#FFF000" stroke="#555" stroke-width="0.35"/>
<text x="126.9" y="267.3" font-size="7.2" text-anchor="start" font-weight="bold" font-style="normal" >5</text>
<rect x="114.2" y="272.3" width="10.2" height="6.1" fill="#C2F028" stroke="#555" stroke-width="0.35"/>
<text x="126.9" y="278.1" font-size="7.2" text-anchor="start" font-weight="bold" font-style="normal" >6</text>
<rect x="114.2" y="283.4" width="10.2" height="6.1" fill="#48E020" stroke="#555" stroke-width="0.35"/>
<text x="126.9" y="289.2" font-size="7.2" text-anchor="start" font-weight="bold" font-style="normal" >7</text>
<rect x="114.2" y="294.2" width="10.2" height="6.1" fill="#1EC83C" stroke="#555" stroke-width="0.35"/>
<text x="126.9" y="300" font-size="7.2" text-anchor="start" font-weight="bold" font-style="normal" >8</text>
<rect x="134" y="261.5" width="10.2" height="6.1" fill="#22A878" stroke="#555" stroke-width="0.35"/>
<text x="146.7" y="267.3" font-size="7.2" text-anchor="start" font-weight="bold" font-style="normal" >9</text>
<rect x="134" y="272.3" width="10.2" height="6.1" fill="#1E9696" stroke="#555" stroke-width="0.35"/>
<text x="146.7" y="278.1" font-size="7.2" text-anchor="start" font-weight="bold" font-style="normal" >10</text>
<rect x="134" y="283.4" width="10.2" height="6.1" fill="#1A6496" stroke="#555" stroke-width="0.35"/>
<text x="146.7" y="289.2" font-size="7.2" text-anchor="start" font-weight="bold" font-style="normal" >11</text>
<rect x="134" y="294.2" width="10.2" height="6.1" fill="#0A2882" stroke="#555" stroke-width="0.35"/>
<text x="146.7" y="300" font-size="7.2" text-anchor="start" font-weight="bold" font-style="normal" >12</text>
<g stroke="#333" stroke-width="0.9" fill="none">
<path d="M191.5 11.7 V147.2 H545"/>
</g>
<line x1="188.9" y1="137.83" x2="191.5" y2="137.83" stroke="#333" stroke-width="0.8"/>
<text x="186.7" y="140.43" font-size="7.5" text-anchor="end" font-weight="bold" font-style="normal" >&#8722;0.2</text>
<line x1="188.9" y1="119.8" x2="191.5" y2="119.8" stroke="#333" stroke-width="0.8"/>
<text x="186.7" y="122.4" font-size="7.5" text-anchor="end" font-weight="bold" font-style="normal" >0.0</text>
<line x1="188.9" y1="101.77" x2="191.5" y2="101.77" stroke="#333" stroke-width="0.8"/>
<text x="186.7" y="104.37" font-size="7.5" text-anchor="end" font-weight="bold" font-style="normal" >0.2</text>
<line x1="188.9" y1="83.73" x2="191.5" y2="83.73" stroke="#333" stroke-width="0.8"/>
<text x="186.7" y="86.33" font-size="7.5" text-anchor="end" font-weight="bold" font-style="normal" >0.4</text>
<line x1="188.9" y1="65.7" x2="191.5" y2="65.7" stroke="#333" stroke-width="0.8"/>
<text x="186.7" y="68.3" font-size="7.5" text-anchor="end" font-weight="bold" font-style="normal" >0.6</text>
<line x1="188.9" y1="47.66" x2="191.5" y2="47.66" stroke="#333" stroke-width="0.8"/>
<text x="186.7" y="50.26" font-size="7.5" text-anchor="end" font-weight="bold" font-style="normal" >0.8</text>
<line x1="188.9" y1="29.63" x2="191.5" y2="29.63" stroke="#333" stroke-width="0.8"/>
<text x="186.7" y="32.23" font-size="7.5" text-anchor="end" font-weight="bold" font-style="normal" >1.0</text>
<line x1="224.3" y1="147.2" x2="224.3" y2="149.8" stroke="#333" stroke-width="0.8"/>
<text x="224.3" y="158.3" font-size="7.5" text-anchor="middle" font-weight="bold" font-style="normal" >BJ</text>
<line x1="278.5" y1="147.2" x2="278.5" y2="149.8" stroke="#333" stroke-width="0.8"/>
<text x="278.5" y="158.3" font-size="7.5" text-anchor="middle" font-weight="bold" font-style="normal" >TJ</text>
<line x1="332.5" y1="147.2" x2="332.5" y2="149.8" stroke="#333" stroke-width="0.8"/>
<text x="332.5" y="158.3" font-size="7.5" text-anchor="middle" font-weight="bold" font-style="normal" >HB</text>
<line x1="387" y1="147.2" x2="387" y2="149.8" stroke="#333" stroke-width="0.8"/>
<text x="387" y="158.3" font-size="7.5" text-anchor="middle" font-weight="bold" font-style="normal" >SD</text>
<line x1="441.3" y1="147.2" x2="441.3" y2="149.8" stroke="#333" stroke-width="0.8"/>
<text x="441.3" y="158.3" font-size="7.5" text-anchor="middle" font-weight="bold" font-style="normal" >HN</text>
<line x1="495.5" y1="147.2" x2="495.5" y2="149.8" stroke="#333" stroke-width="0.8"/>
<text x="495.5" y="158.3" font-size="7.5" text-anchor="middle" font-weight="bold" font-style="normal" >NCP</text>
<text x="163" y="23.4" font-size="8.8" text-anchor="start" font-weight="bold" font-style="normal" >(b)</text>
<text transform="translate(171.6,79.2) rotate(-90)" font-size="7.5" text-anchor="middle" font-weight="bold" font-style="italic">r_max</text>
<path d="M228.25 28.9 C228.51 29.82 229.26 32.43 229.8 34.4 C230.34 36.37 230.95 38.6 231.5 40.7 C232.05 42.8 232.68 45.03 233.1 47 C233.52 48.97 233.5 50.67 234 52.5 C234.5 54.33 235.1 56.3 236.1 58 C237.1 59.7 238.97 61.12 240 62.7 C241.03 64.28 241.67 65.87 242.3 67.5 C242.93 69.13 243.63 71.08 243.8 72.5 C243.97 73.92 243.63 74.73 243.3 76 C242.97 77.27 242.72 78.58 241.8 80.1 C240.88 81.62 239.3 83.43 237.8 85.1 C236.3 86.77 234.42 88.43 232.8 90.1 C231.18 91.77 229.28 93.42 228.1 95.1 C226.92 96.78 226.2 98.8 225.7 100.2 C225.2 101.6 225.28 102.27 225.1 103.5 C224.92 104.73 224.68 106.92 224.6 107.6 L224 107.6 C223.92 106.92 223.68 104.73 223.5 103.5 C223.32 102.27 223.4 101.6 222.9 100.2 C222.4 98.8 221.68 96.78 220.5 95.1 C219.32 93.42 217.42 91.77 215.8 90.1 C214.18 88.43 212.3 86.77 210.8 85.1 C209.3 83.43 207.72 81.62 206.8 80.1 C205.88 78.58 205.63 77.27 205.3 76 C204.97 74.73 204.63 73.92 204.8 72.5 C204.97 71.08 205.67 69.13 206.3 67.5 C206.93 65.87 207.57 64.28 208.6 62.7 C209.63 61.12 211.5 59.7 212.5 58 C213.5 56.3 214.1 54.33 214.6 52.5 C215.1 50.67 215.08 48.97 215.5 47 C215.92 45.03 216.55 42.8 217.1 40.7 C217.65 38.6 218.26 36.37 218.8 34.4 C219.34 32.43 220.09 29.82 220.35 28.9 Z" fill="#44AEF6" stroke="#5a5a5a" stroke-width="0.75"/>
<line x1="215.2" y1="52.5" x2="233.4" y2="52.5" stroke="#3a3a3a" stroke-width="0.6" stroke-dasharray="0.9 0.9"/>
<line x1="206.87" y1="67.6" x2="241.73" y2="67.6" stroke="#3a3a3a" stroke-width="0.75" stroke-dasharray="2.6 1.6"/>
<line x1="207.56" y1="80.3" x2="241.04" y2="80.3" stroke="#3a3a3a" stroke-width="0.6" stroke-dasharray="0.9 0.9"/>
<path d="M282.05 29.4 C282.57 30.23 284.02 32.52 285.2 34.4 C286.38 36.28 287.95 38.87 289.1 40.7 C290.25 42.53 291.12 43.83 292.1 45.4 C293.08 46.97 293.73 48.53 295 50.1 C296.27 51.67 298.2 53.35 299.7 54.8 C301.2 56.25 303.12 57.72 304 58.8 C304.88 59.88 305.08 60.52 305 61.3 C304.92 62.08 304.38 62.72 303.5 63.5 C302.62 64.28 301.31 64.97 299.7 66 C298.09 67.03 295.82 68.43 293.85 69.7 C291.88 70.97 289.61 72.28 287.9 73.6 C286.19 74.92 284.71 76.15 283.6 77.6 C282.49 79.05 281.79 81 281.25 82.3 C280.71 83.6 280.32 84.08 280.35 85.4 C280.38 86.72 281.45 88.37 281.45 90.2 C281.45 92.03 280.68 94.32 280.35 96.4 C280.03 98.48 279.76 100.73 279.5 102.7 C279.24 104.67 278.92 107.28 278.8 108.2 L278.2 108.2 C278.08 107.28 277.76 104.67 277.5 102.7 C277.24 100.73 276.97 98.48 276.65 96.4 C276.32 94.32 275.55 92.03 275.55 90.2 C275.55 88.37 276.62 86.72 276.65 85.4 C276.68 84.08 276.29 83.6 275.75 82.3 C275.21 81 274.51 79.05 273.4 77.6 C272.29 76.15 270.81 74.92 269.1 73.6 C267.39 72.28 265.12 70.97 263.15 69.7 C261.18 68.43 258.91 67.03 257.3 66 C255.69 64.97 254.38 64.28 253.5 63.5 C252.62 62.72 252.08 62.08 252 61.3 C251.92 60.52 252.12 59.88 253 58.8 C253.88 57.72 255.8 56.25 257.3 54.8 C258.8 53.35 260.73 51.67 262 50.1 C263.27 48.53 263.92 46.97 264.9 45.4 C265.88 43.83 266.75 42.53 267.9 40.7 C269.05 38.87 270.62 36.28 271.8 34.4 C272.98 32.52 274.43 30.23 274.95 29.4 Z" fill="#B2E2FC" stroke="#5a5a5a" stroke-width="0.75"/>
<line x1="262.6" y1="50.1" x2="294.4" y2="50.1" stroke="#3a3a3a" stroke-width="0.6" stroke-dasharray="0.9 0.9"/>
<line x1="253.6" y1="58.8" x2="303.4" y2="58.8" stroke="#3a3a3a" stroke-width="0.75" stroke-dasharray="2.6 1.6"/>
<line x1="257.9" y1="66" x2="299.1" y2="66" stroke="#3a3a3a" stroke-width="0.6" stroke-dasharray="0.9 0.9"/>
<path d="M333 39.4 C333.2 39.93 333.55 41.65 334.2 42.6 C334.85 43.55 335.72 44.07 336.9 45.1 C338.08 46.13 339.83 47.55 341.3 48.8 C342.77 50.05 344.23 51.33 345.7 52.6 C347.17 53.87 348.73 55.13 350.1 56.4 C351.47 57.67 353.06 59.25 353.9 60.2 C354.74 61.15 354.73 61.27 355.15 62.1 C355.57 62.93 356.26 64.22 356.4 65.2 C356.54 66.18 356.22 67.12 356 68 C355.78 68.88 355.38 69.67 355.1 70.5 C354.82 71.33 354.22 71.87 354.3 73 C354.38 74.13 355.45 76.25 355.6 77.3 C355.75 78.35 355.8 78.4 355.2 79.3 C354.6 80.2 353.7 81.42 352 82.7 C350.3 83.98 347.15 85.58 345 87 C342.85 88.42 340.82 89.78 339.1 91.2 C337.38 92.62 335.63 94.07 334.7 95.5 C333.77 96.93 333.8 98.35 333.5 99.8 C333.2 101.25 333 103.47 332.9 104.2 L332.1 104.2 C332 103.47 331.8 101.25 331.5 99.8 C331.2 98.35 331.23 96.93 330.3 95.5 C329.37 94.07 327.62 92.62 325.9 91.2 C324.18 89.78 322.15 88.42 320 87 C317.85 85.58 314.7 83.98 313 82.7 C311.3 81.42 310.4 80.2 309.8 79.3 C309.2 78.4 309.25 78.35 309.4 77.3 C309.55 76.25 310.62 74.13 310.7 73 C310.78 71.87 310.18 71.33 309.9 70.5 C309.62 69.67 309.22 68.88 309 68 C308.78 67.12 308.46 66.18 308.6 65.2 C308.74 64.22 309.43 62.93 309.85 62.1 C310.27 61.27 310.26 61.15 311.1 60.2 C311.94 59.25 313.53 57.67 314.9 56.4 C316.27 55.13 317.83 53.87 319.3 52.6 C320.77 51.33 322.23 50.05 323.7 48.8 C325.17 47.55 326.92 46.13 328.1 45.1 C329.28 44.07 330.15 43.55 330.8 42.6 C331.45 41.65 331.8 39.93 332 39.4 Z" fill="#A6F2F6" stroke="#5a5a5a" stroke-width="0.75"/>
<line x1="310.45" y1="62.1" x2="354.55" y2="62.1" stroke="#3a3a3a" stroke-width="0.6" stroke-dasharray="0.9 0.9"/>
<line x1="310.39" y1="70.2" x2="354.61" y2="70.2" stroke="#3a3a3a" stroke-width="0.75" stroke-dasharray="2.6 1.6"/>
<line x1="310.36" y1="79.1" x2="354.64" y2="79.1" stroke="#3a3a3a" stroke-width="0.6" stroke-dasharray="0.9 0.9"/>
<path d="M387.8 29.2 C387.9 29.92 388.3 31.85 388.4 33.5 C388.5 35.15 388.32 37.6 388.4 39.1 C388.48 40.6 388.25 41.3 388.9 42.5 C389.55 43.7 391.07 45.03 392.3 46.3 C393.53 47.57 395.2 48.85 396.3 50.1 C397.4 51.35 398.05 52.55 398.9 53.8 C399.75 55.05 400.52 56.55 401.4 57.6 C402.28 58.65 403.05 59.15 404.2 60.1 C405.35 61.05 406.88 62.25 408.3 63.3 C409.72 64.35 411.7 65.25 412.7 66.4 C413.7 67.55 414.15 68.95 414.3 70.2 C414.45 71.45 414.4 72.72 413.6 73.9 C412.8 75.08 411.23 75.85 409.5 77.3 C407.77 78.75 405.35 80.68 403.2 82.6 C401.05 84.52 398.58 86.72 396.6 88.8 C394.62 90.88 392.6 93 391.3 95.1 C390 97.2 389.45 99.82 388.8 101.4 C388.15 102.98 387.63 104.07 387.4 104.6 L386.6 104.6 C386.37 104.07 385.85 102.98 385.2 101.4 C384.55 99.82 384 97.2 382.7 95.1 C381.4 93 379.38 90.88 377.4 88.8 C375.42 86.72 372.95 84.52 370.8 82.6 C368.65 80.68 366.23 78.75 364.5 77.3 C362.77 75.85 361.2 75.08 360.4 73.9 C359.6 72.72 359.55 71.45 359.7 70.2 C359.85 68.95 360.3 67.55 361.3 66.4 C362.3 65.25 364.28 64.35 365.7 63.3 C367.12 62.25 368.65 61.05 369.8 60.1 C370.95 59.15 371.72 58.65 372.6 57.6 C373.48 56.55 374.25 55.05 375.1 53.8 C375.95 52.55 376.6 51.35 377.7 50.1 C378.8 48.85 380.47 47.57 381.7 46.3 C382.93 45.03 384.45 43.7 385.1 42.5 C385.75 41.3 385.52 40.6 385.6 39.1 C385.68 37.6 385.5 35.15 385.6 33.5 C385.7 31.85 386.1 29.92 386.2 29.2 Z" fill="#A0F6DA" stroke="#5a5a5a" stroke-width="0.75"/>
<line x1="366.68" y1="63" x2="407.32" y2="63" stroke="#3a3a3a" stroke-width="0.6" stroke-dasharray="0.9 0.9"/>
<line x1="360.3" y1="70.2" x2="413.7" y2="70.2" stroke="#3a3a3a" stroke-width="0.75" stroke-dasharray="2.6 1.6"/>
<line x1="364.74" y1="77" x2="409.26" y2="77" stroke="#3a3a3a" stroke-width="0.6" stroke-dasharray="0.9 0.9"/>
<path d="M441.8 42.7 C442 43.33 442.3 45.08 443 46.5 C443.7 47.92 444.93 49.47 446 51.2 C447.07 52.93 448.45 55 449.4 56.9 C450.35 58.8 450.85 60.72 451.7 62.6 C452.55 64.48 453.4 66.47 454.5 68.2 C455.6 69.93 456.88 71.42 458.3 73 C459.72 74.58 462.02 76.23 463 77.7 C463.98 79.17 463.9 80.5 464.2 81.8 C464.5 83.1 464.85 84.07 464.8 85.5 C464.75 86.93 464.67 88.93 463.9 90.4 C463.13 91.87 461.83 92.92 460.2 94.3 C458.57 95.68 456.03 97.23 454.1 98.7 C452.17 100.17 450.23 101.63 448.6 103.1 C446.97 104.57 445.28 106.03 444.3 107.5 C443.32 108.97 443 110.48 442.7 111.9 C442.4 113.32 442.55 113.55 442.5 116 C442.45 118.45 442.53 122.95 442.4 126.6 C442.27 130.25 441.82 136.02 441.7 137.9 L440.9 137.9 C440.78 136.02 440.33 130.25 440.2 126.6 C440.07 122.95 440.15 118.45 440.1 116 C440.05 113.55 440.2 113.32 439.9 111.9 C439.6 110.48 439.28 108.97 438.3 107.5 C437.32 106.03 435.63 104.57 434 103.1 C432.37 101.63 430.43 100.17 428.5 98.7 C426.57 97.23 424.03 95.68 422.4 94.3 C420.77 92.92 419.47 91.87 418.7 90.4 C417.93 88.93 417.85 86.93 417.8 85.5 C417.75 84.07 418.1 83.1 418.4 81.8 C418.7 80.5 418.62 79.17 419.6 77.7 C420.58 76.23 422.88 74.58 424.3 73 C425.72 71.42 427 69.93 428.1 68.2 C429.2 66.47 430.05 64.48 430.9 62.6 C431.75 60.72 432.25 58.8 433.2 56.9 C434.15 55 435.53 52.93 436.6 51.2 C437.67 49.47 438.9 47.92 439.6 46.5 C440.3 45.08 440.6 43.33 440.8 42.7 Z" fill="#F9F3BF" stroke="#5a5a5a" stroke-width="0.75"/>
<line x1="424.9" y1="73" x2="457.7" y2="73" stroke="#3a3a3a" stroke-width="0.6" stroke-dasharray="0.9 0.9"/>
<line x1="418.97" y1="82" x2="463.63" y2="82" stroke="#3a3a3a" stroke-width="0.75" stroke-dasharray="2.6 1.6"/>
<line x1="419.3" y1="90.4" x2="463.3" y2="90.4" stroke="#3a3a3a" stroke-width="0.6" stroke-dasharray="0.9 0.9"/>
<path d="M496 29.2 C496.1 30.38 496.37 34.02 496.6 36.3 C496.83 38.58 496.57 41 497.4 42.9 C498.23 44.8 499.95 45.97 501.6 47.7 C503.25 49.43 505.41 51.42 507.3 53.3 C509.19 55.18 511.51 57.27 512.95 59 C514.39 60.73 515.35 62.13 515.95 63.7 C516.55 65.27 516.56 67.1 516.55 68.4 C516.54 69.7 515.91 70.7 515.9 71.5 C515.89 72.3 516.1 72.5 516.5 73.2 C516.9 73.9 518.25 74.82 518.3 75.7 C518.35 76.58 517.62 77.42 516.8 78.5 C515.98 79.58 514.77 80.88 513.4 82.2 C512.03 83.52 510.28 84.87 508.6 86.4 C506.92 87.93 504.87 89.73 503.3 91.4 C501.73 93.07 500.23 94.72 499.2 96.4 C498.17 98.08 497.57 99.82 497.1 101.5 C496.63 103.18 496.55 103.58 496.4 106.5 C496.25 109.42 496.28 113.8 496.2 119 C496.12 124.2 495.95 134.58 495.9 137.7 L495.1 137.7 C495.05 134.58 494.88 124.2 494.8 119 C494.72 113.8 494.75 109.42 494.6 106.5 C494.45 103.58 494.37 103.18 493.9 101.5 C493.43 99.82 492.83 98.08 491.8 96.4 C490.77 94.72 489.27 93.07 487.7 91.4 C486.13 89.73 484.08 87.93 482.4 86.4 C480.72 84.87 478.97 83.52 477.6 82.2 C476.23 80.88 475.02 79.58 474.2 78.5 C473.38 77.42 472.65 76.58 472.7 75.7 C472.75 74.82 474.1 73.9 474.5 73.2 C474.9 72.5 475.11 72.3 475.1 71.5 C475.09 70.7 474.46 69.7 474.45 68.4 C474.44 67.1 474.45 65.27 475.05 63.7 C475.65 62.13 476.61 60.73 478.05 59 C479.49 57.27 481.81 55.18 483.7 53.3 C485.59 51.42 487.75 49.43 489.4 47.7 C491.05 45.97 492.77 44.8 493.6 42.9 C494.43 41 494.17 38.58 494.4 36.3 C494.63 34.02 494.9 30.38 495 29.2 Z" fill="#FAD6BC" stroke="#5a5a5a" stroke-width="0.75"/>
<line x1="475.65" y1="63.7" x2="515.35" y2="63.7" stroke="#3a3a3a" stroke-width="0.6" stroke-dasharray="0.9 0.9"/>
<line x1="475.21" y1="72.9" x2="515.79" y2="72.9" stroke="#3a3a3a" stroke-width="0.75" stroke-dasharray="2.6 1.6"/>
<line x1="478.2" y1="82.2" x2="512.8" y2="82.2" stroke="#3a3a3a" stroke-width="0.6" stroke-dasharray="0.9 0.9"/>
<polyline points="224.4,65.9 278.4,57.1 332.4,70.2 387.3,70.2 441.3,81.5 495.4,73.1" fill="none" stroke="#F28282" stroke-width="0.8"/>
<circle cx="224.4" cy="65.9" r="1.25" fill="#fff" stroke="#999" stroke-width="0.3"/>
<circle cx="278.4" cy="57.1" r="1.25" fill="#fff" stroke="#999" stroke-width="0.3"/>
<circle cx="332.4" cy="70.2" r="1.25" fill="#fff" stroke="#999" stroke-width="0.3"/>
<circle cx="387.3" cy="70.2" r="1.25" fill="#fff" stroke="#999" stroke-width="0.3"/>
<circle cx="441.3" cy="81.5" r="1.25" fill="#fff" stroke="#999" stroke-width="0.3"/>
<circle cx="495.4" cy="73.1" r="1.25" fill="#fff" stroke="#999" stroke-width="0.3"/>
<path d="M191.6 168.8 V303.3 H545" stroke="#333" stroke-width="0.9" fill="none"/>
<line x1="189" y1="303.51" x2="191.6" y2="303.51" stroke="#333" stroke-width="0.8"/>
<text x="186.8" y="306.21" font-size="7.5" text-anchor="end" font-weight="bold" font-style="normal" >&#8722;2</text>
<line x1="189" y1="286.5" x2="191.6" y2="286.5" stroke="#333" stroke-width="0.8"/>
<text x="186.8" y="289.2" font-size="7.5" text-anchor="end" font-weight="bold" font-style="normal" >0</text>
<line x1="189" y1="269.49" x2="191.6" y2="269.49" stroke="#333" stroke-width="0.8"/>
<text x="186.8" y="272.19" font-size="7.5" text-anchor="end" font-weight="bold" font-style="normal" >2</text>
<line x1="189" y1="252.47" x2="191.6" y2="252.47" stroke="#333" stroke-width="0.8"/>
<text x="186.8" y="255.17" font-size="7.5" text-anchor="end" font-weight="bold" font-style="normal" >4</text>
<line x1="189" y1="235.46" x2="191.6" y2="235.46" stroke="#333" stroke-width="0.8"/>
<text x="186.8" y="238.16" font-size="7.5" text-anchor="end" font-weight="bold" font-style="normal" >6</text>
<line x1="189" y1="218.44" x2="191.6" y2="218.44" stroke="#333" stroke-width="0.8"/>
<text x="186.8" y="221.14" font-size="7.5" text-anchor="end" font-weight="bold" font-style="normal" >8</text>
<line x1="189" y1="201.43" x2="191.6" y2="201.43" stroke="#333" stroke-width="0.8"/>
<text x="186.8" y="204.13" font-size="7.5" text-anchor="end" font-weight="bold" font-style="normal" >10</text>
<line x1="189" y1="184.42" x2="191.6" y2="184.42" stroke="#333" stroke-width="0.8"/>
<text x="186.8" y="187.12" font-size="7.5" text-anchor="end" font-weight="bold" font-style="normal" >12</text>
<line x1="224.3" y1="303.3" x2="224.3" y2="306.1" stroke="#333" stroke-width="0.8"/>
<text transform="translate(224.3,313.8) scale(1,0.78)" font-size="7.5" text-anchor="middle" font-weight="bold" style="stroke-width:0.4px">BJ</text>
<line x1="278.5" y1="303.3" x2="278.5" y2="306.1" stroke="#333" stroke-width="0.8"/>
<text transform="translate(278.5,313.8) scale(1,0.78)" font-size="7.5" text-anchor="middle" font-weight="bold" style="stroke-width:0.4px">TJ</text>
<line x1="332.5" y1="303.3" x2="332.5" y2="306.1" stroke="#333" stroke-width="0.8"/>
<text transform="translate(332.5,313.8) scale(1,0.78)" font-size="7.5" text-anchor="middle" font-weight="bold" style="stroke-width:0.4px">HB</text>
<line x1="387" y1="303.3" x2="387" y2="306.1" stroke="#333" stroke-width="0.8"/>
<text transform="translate(387,313.8) scale(1,0.78)" font-size="7.5" text-anchor="middle" font-weight="bold" style="stroke-width:0.4px">SD</text>
<line x1="441.3" y1="303.3" x2="441.3" y2="306.1" stroke="#333" stroke-width="0.8"/>
<text transform="translate(441.3,313.8) scale(1,0.78)" font-size="7.5" text-anchor="middle" font-weight="bold" style="stroke-width:0.4px">HN</text>
<line x1="495.5" y1="303.3" x2="495.5" y2="306.1" stroke="#333" stroke-width="0.8"/>
<text transform="translate(495.5,313.8) scale(1,0.78)" font-size="7.5" text-anchor="middle" font-weight="bold" style="stroke-width:0.4px">NCP</text>
<text x="163.2" y="177.8" font-size="8.8" text-anchor="start" font-weight="bold" font-style="normal" >(d)</text>
<text transform="translate(174.2,237.5) rotate(-90)" font-size="7.5" text-anchor="middle" font-weight="bold">Lag time (months)</text>
<path d="M224.7 224 C224.91 224.8 225.38 226.9 225.95 228.8 C226.53 230.7 227.51 233.2 228.15 235.4 C228.79 237.6 229.34 240.07 229.8 242 C230.26 243.93 230.52 245.28 230.9 247 C231.28 248.72 231.58 250.75 232.1 252.3 C232.62 253.85 232.95 255 234 256.3 C235.05 257.6 236.62 258.85 238.4 260.1 C240.18 261.35 242.95 262.7 244.7 263.8 C246.45 264.9 247.78 265.75 248.9 266.7 C250.02 267.65 251.9 268.4 251.4 269.5 C250.9 270.6 248.43 272.05 245.9 273.3 C243.37 274.55 238.97 275.85 236.2 277 C233.43 278.15 231.12 279.03 229.3 280.2 C227.48 281.37 226.07 283.07 225.3 284 C224.53 284.93 224.8 285.5 224.7 285.8 L223.9 285.8 C223.8 285.5 224.07 284.93 223.3 284 C222.53 283.07 221.12 281.37 219.3 280.2 C217.48 279.03 215.17 278.15 212.4 277 C209.63 275.85 205.23 274.55 202.7 273.3 C200.17 272.05 197.7 270.6 197.2 269.5 C196.7 268.4 198.58 267.65 199.7 266.7 C200.82 265.75 202.15 264.9 203.9 263.8 C205.65 262.7 208.42 261.35 210.2 260.1 C211.98 258.85 213.55 257.6 214.6 256.3 C215.65 255 215.98 253.85 216.5 252.3 C217.02 250.75 217.32 248.72 217.7 247 C218.08 245.28 218.34 243.93 218.8 242 C219.26 240.07 219.81 237.6 220.45 235.4 C221.09 233.2 222.08 230.7 222.65 228.8 C223.22 226.9 223.69 224.8 223.9 224 Z" fill="#44AEF6" stroke="#5a5a5a" stroke-width="0.75"/>
<line x1="217.1" y1="252.3" x2="231.5" y2="252.3" stroke="#3a3a3a" stroke-width="0.6" stroke-dasharray="0.9 0.9"/>
<line x1="197.8" y1="269.5" x2="250.8" y2="269.5" stroke="#3a3a3a" stroke-width="0.75" stroke-dasharray="2.6 1.6"/>
<path d="M278.9 224 C279.11 224.8 279.21 227.08 280.15 228.8 C281.09 230.52 283.13 232.65 284.55 234.3 C285.97 235.95 287.52 237.05 288.65 238.7 C289.78 240.35 290.98 242.55 291.35 244.2 C291.72 245.85 291.58 246.95 290.85 248.6 C290.12 250.25 287.97 252.33 286.95 254.1 C285.93 255.87 284.27 257.53 284.75 259.2 C285.23 260.87 288.02 262.37 289.85 264.1 C291.68 265.83 295.38 267.77 295.75 269.6 C296.12 271.43 293.92 273.27 292.05 275.1 C290.18 276.93 286.48 279.12 284.55 280.6 C282.62 282.08 281.44 283.08 280.5 284 C279.56 284.92 279.17 285.75 278.9 286.1 L278.1 286.1 C277.83 285.75 277.44 284.92 276.5 284 C275.56 283.08 274.38 282.08 272.45 280.6 C270.52 279.12 266.82 276.93 264.95 275.1 C263.08 273.27 260.88 271.43 261.25 269.6 C261.62 267.77 265.32 265.83 267.15 264.1 C268.98 262.37 271.77 260.87 272.25 259.2 C272.73 257.53 271.07 255.87 270.05 254.1 C269.03 252.33 266.88 250.25 266.15 248.6 C265.42 246.95 265.28 245.85 265.65 244.2 C266.02 242.55 267.22 240.35 268.35 238.7 C269.48 237.05 271.03 235.95 272.45 234.3 C273.87 232.65 275.91 230.52 276.85 228.8 C277.79 227.08 277.89 224.8 278.1 224 Z" fill="#B2E2FC" stroke="#5a5a5a" stroke-width="0.75"/>
<line x1="266.25" y1="244.2" x2="290.75" y2="244.2" stroke="#3a3a3a" stroke-width="0.6" stroke-dasharray="0.9 0.9"/>
<line x1="261.85" y1="269.6" x2="295.15" y2="269.6" stroke="#3a3a3a" stroke-width="0.75" stroke-dasharray="2.6 1.6"/>
<path d="M332.9 176.2 C333.13 176.82 334 178.55 334.3 179.9 C334.6 181.25 334.75 182.83 334.7 184.3 C334.65 185.77 334.27 187.23 334 188.7 C333.73 190.17 333.28 191.22 333.1 193.1 C332.93 194.98 332.97 193.98 332.95 200 C332.93 206.02 332.77 223.45 333 229.2 C333.23 234.95 333.91 232.75 334.35 234.5 C334.79 236.25 335.22 237.78 335.65 239.7 C336.07 241.62 336.34 244.07 336.9 246 C337.46 247.93 338.07 249.53 339 251.3 C339.93 253.07 341.12 254.95 342.5 256.6 C343.88 258.25 345.41 259.8 347.25 261.2 C349.09 262.6 351.83 263.6 353.55 265 C355.27 266.4 358.08 268.03 357.55 269.6 C357.02 271.17 353.12 272.72 350.35 274.4 C347.58 276.08 343.35 278.12 340.9 279.7 C338.45 281.28 336.98 282.67 335.65 283.9 C334.32 285.13 333.36 286.57 332.9 287.1 L332.1 287.1 C331.64 286.57 330.68 285.13 329.35 283.9 C328.02 282.67 326.55 281.28 324.1 279.7 C321.65 278.12 317.42 276.08 314.65 274.4 C311.88 272.72 307.98 271.17 307.45 269.6 C306.92 268.03 309.73 266.4 311.45 265 C313.17 263.6 315.91 262.6 317.75 261.2 C319.59 259.8 321.12 258.25 322.5 256.6 C323.88 254.95 325.07 253.07 326 251.3 C326.93 249.53 327.54 247.93 328.1 246 C328.66 244.07 328.93 241.62 329.35 239.7 C329.78 237.78 330.21 236.25 330.65 234.5 C331.09 232.75 331.77 234.95 332 229.2 C332.23 223.45 332.07 206.02 332.05 200 C332.03 193.98 332.07 194.98 331.9 193.1 C331.72 191.22 331.27 190.17 331 188.7 C330.73 187.23 330.35 185.77 330.3 184.3 C330.25 182.83 330.4 181.25 330.7 179.9 C331 178.55 331.87 176.82 332.1 176.2 Z" fill="#A6F2F6" stroke="#5a5a5a" stroke-width="0.75"/>
<line x1="318.35" y1="261.2" x2="346.65" y2="261.2" stroke="#3a3a3a" stroke-width="0.6" stroke-dasharray="0.9 0.9"/>
<line x1="308.05" y1="269.6" x2="356.95" y2="269.6" stroke="#3a3a3a" stroke-width="0.75" stroke-dasharray="2.6 1.6"/>
<path d="M390.3 176.2 C390.41 177 390.84 179.1 390.95 181 C391.06 182.9 391.17 185.38 390.95 187.6 C390.73 189.82 390.11 192.08 389.65 194.3 C389.19 196.52 388.52 198.7 388.2 200.9 C387.88 203.1 387.8 201.82 387.7 207.5 C387.6 213.18 387.47 229.58 387.6 235 C387.73 240.42 388.05 238.43 388.5 240 C388.95 241.57 389.72 242.9 390.3 244.4 C390.88 245.9 391.29 247.42 392 249 C392.71 250.58 393.58 251.92 394.55 253.9 C395.52 255.88 396.73 259.05 397.8 260.9 C398.88 262.75 400.2 263.55 401 265 C401.8 266.45 402.68 268.1 402.6 269.6 C402.52 271.1 401.42 272.52 400.5 274 C399.58 275.48 398.02 277.17 397.1 278.5 C396.18 279.83 395.58 280.75 395 282 C394.42 283.25 393.83 285.33 393.6 286 L380.4 286 C380.17 285.33 379.58 283.25 379 282 C378.42 280.75 377.82 279.83 376.9 278.5 C375.98 277.17 374.42 275.48 373.5 274 C372.58 272.52 371.48 271.1 371.4 269.6 C371.32 268.1 372.2 266.45 373 265 C373.8 263.55 375.12 262.75 376.2 260.9 C377.27 259.05 378.48 255.88 379.45 253.9 C380.42 251.92 381.29 250.58 382 249 C382.71 247.42 383.12 245.9 383.7 244.4 C384.28 242.9 385.05 241.57 385.5 240 C385.95 238.43 386.27 240.42 386.4 235 C386.53 229.58 386.4 213.18 386.3 207.5 C386.2 201.82 386.12 203.1 385.8 200.9 C385.48 198.7 384.81 196.52 384.35 194.3 C383.89 192.08 383.27 189.82 383.05 187.6 C382.83 185.38 382.94 182.9 383.05 181 C383.16 179.1 383.59 177 383.7 176.2 Z" fill="#A0F6DA" stroke="#5a5a5a" stroke-width="0.75"/>
<line x1="376.8" y1="260.9" x2="397.2" y2="260.9" stroke="#3a3a3a" stroke-width="0.6" stroke-dasharray="0.9 0.9"/>
<line x1="372" y1="269.6" x2="402" y2="269.6" stroke="#3a3a3a" stroke-width="0.75" stroke-dasharray="2.6 1.6"/>
<path d="M446.3 176.2 C446.48 176.82 447.22 178.55 447.4 179.9 C447.58 181.25 447.52 182.45 447.4 184.3 C447.28 186.15 447.07 188.78 446.7 191 C446.32 193.22 445.63 195.4 445.15 197.6 C444.67 199.8 444.12 201.45 443.8 204.2 C443.48 206.95 443.33 210.6 443.2 214.1 C443.07 217.6 443 221.88 443 225.2 C443 228.52 442.97 231.15 443.2 234 C443.43 236.85 443.68 239.28 444.35 242.3 C445.03 245.32 446.53 249.03 447.25 252.1 C447.97 255.17 448.43 257.9 448.65 260.7 C448.88 263.5 448.91 265.85 448.6 268.9 C448.29 271.95 447.33 276.28 446.8 279 C446.27 281.72 445.63 284.17 445.4 285.2 L437.2 285.2 C436.97 284.17 436.33 281.72 435.8 279 C435.27 276.28 434.31 271.95 434 268.9 C433.69 265.85 433.72 263.5 433.95 260.7 C434.18 257.9 434.63 255.17 435.35 252.1 C436.07 249.03 437.57 245.32 438.25 242.3 C438.93 239.28 439.18 236.85 439.4 234 C439.63 231.15 439.6 228.52 439.6 225.2 C439.6 221.88 439.53 217.6 439.4 214.1 C439.27 210.6 439.12 206.95 438.8 204.2 C438.48 201.45 437.93 199.8 437.45 197.6 C436.97 195.4 436.28 193.22 435.9 191 C435.53 188.78 435.32 186.15 435.2 184.3 C435.08 182.45 435.02 181.25 435.2 179.9 C435.38 178.55 436.12 176.82 436.3 176.2 Z" fill="#F9F3BF" stroke="#5a5a5a" stroke-width="0.75"/>
<line x1="435.8" y1="184.3" x2="446.8" y2="184.3" stroke="#3a3a3a" stroke-width="0.6" stroke-dasharray="0.9 0.9"/>
<line x1="435.95" y1="252.1" x2="446.65" y2="252.1" stroke="#3a3a3a" stroke-width="0.75" stroke-dasharray="2.6 1.6"/>
<line x1="434.6" y1="268.9" x2="448" y2="268.9" stroke="#3a3a3a" stroke-width="0.6" stroke-dasharray="0.9 0.9"/>
<path d="M498.3 176.2 C498.57 176.82 499.53 178.37 499.9 179.9 C500.27 181.43 500.58 183.55 500.5 185.4 C500.42 187.25 499.9 189.15 499.4 191 C498.9 192.85 497.98 194.85 497.5 196.5 C497.02 198.15 496.72 198.65 496.5 200.9 C496.28 203.15 496.24 205.58 496.2 210 C496.16 214.42 496.08 223.15 496.25 227.4 C496.42 231.65 496.85 233.1 497.2 235.5 C497.55 237.9 498.05 239.88 498.35 241.8 C498.65 243.72 498.77 245.3 499 247 C499.23 248.7 499 250.4 499.7 252 C500.4 253.6 501.88 254.97 503.2 256.6 C504.52 258.23 506.38 260.23 507.6 261.8 C508.82 263.37 509.83 264.7 510.5 266 C511.17 267.3 512.08 268.02 511.6 269.6 C511.12 271.18 509.23 273.63 507.6 275.5 C505.97 277.37 503.29 279.03 501.8 280.8 C500.31 282.57 499.17 285.22 498.65 286.1 L492.35 286.1 C491.83 285.22 490.69 282.57 489.2 280.8 C487.71 279.03 485.03 277.37 483.4 275.5 C481.77 273.63 479.88 271.18 479.4 269.6 C478.92 268.02 479.83 267.3 480.5 266 C481.17 264.7 482.18 263.37 483.4 261.8 C484.62 260.23 486.48 258.23 487.8 256.6 C489.12 254.97 490.6 253.6 491.3 252 C492 250.4 491.77 248.7 492 247 C492.23 245.3 492.35 243.72 492.65 241.8 C492.95 239.88 493.45 237.9 493.8 235.5 C494.15 233.1 494.58 231.65 494.75 227.4 C494.92 223.15 494.84 214.42 494.8 210 C494.76 205.58 494.72 203.15 494.5 200.9 C494.28 198.65 493.98 198.15 493.5 196.5 C493.02 194.85 492.1 192.85 491.6 191 C491.1 189.15 490.58 187.25 490.5 185.4 C490.42 183.55 490.73 181.43 491.1 179.9 C491.47 178.37 492.43 176.82 492.7 176.2 Z" fill="#FAD6BC" stroke="#5a5a5a" stroke-width="0.75"/>
<line x1="491.9" y1="252" x2="499.1" y2="252" stroke="#3a3a3a" stroke-width="0.6" stroke-dasharray="0.9 0.9"/>
<line x1="480" y1="269.6" x2="511" y2="269.6" stroke="#3a3a3a" stroke-width="0.75" stroke-dasharray="2.6 1.6"/>
<polyline points="224.3,261.9 278.5,259.4 332.4,261.2 387.1,253.9 441.2,236.6 495.4,252" fill="none" stroke="#F28282" stroke-width="0.8"/>
<circle cx="224.3" cy="261.9" r="1.25" fill="#fff" stroke="#999" stroke-width="0.3"/>
<circle cx="278.5" cy="259.4" r="1.25" fill="#fff" stroke="#999" stroke-width="0.3"/>
<circle cx="332.4" cy="261.2" r="1.25" fill="#fff" stroke="#999" stroke-width="0.3"/>
<circle cx="387.1" cy="253.9" r="1.25" fill="#fff" stroke="#999" stroke-width="0.3"/>
<circle cx="441.2" cy="236.6" r="1.25" fill="#fff" stroke="#999" stroke-width="0.3"/>
<circle cx="495.4" cy="252" r="1.25" fill="#fff" stroke="#999" stroke-width="0.3"/>
</svg></body></html>
